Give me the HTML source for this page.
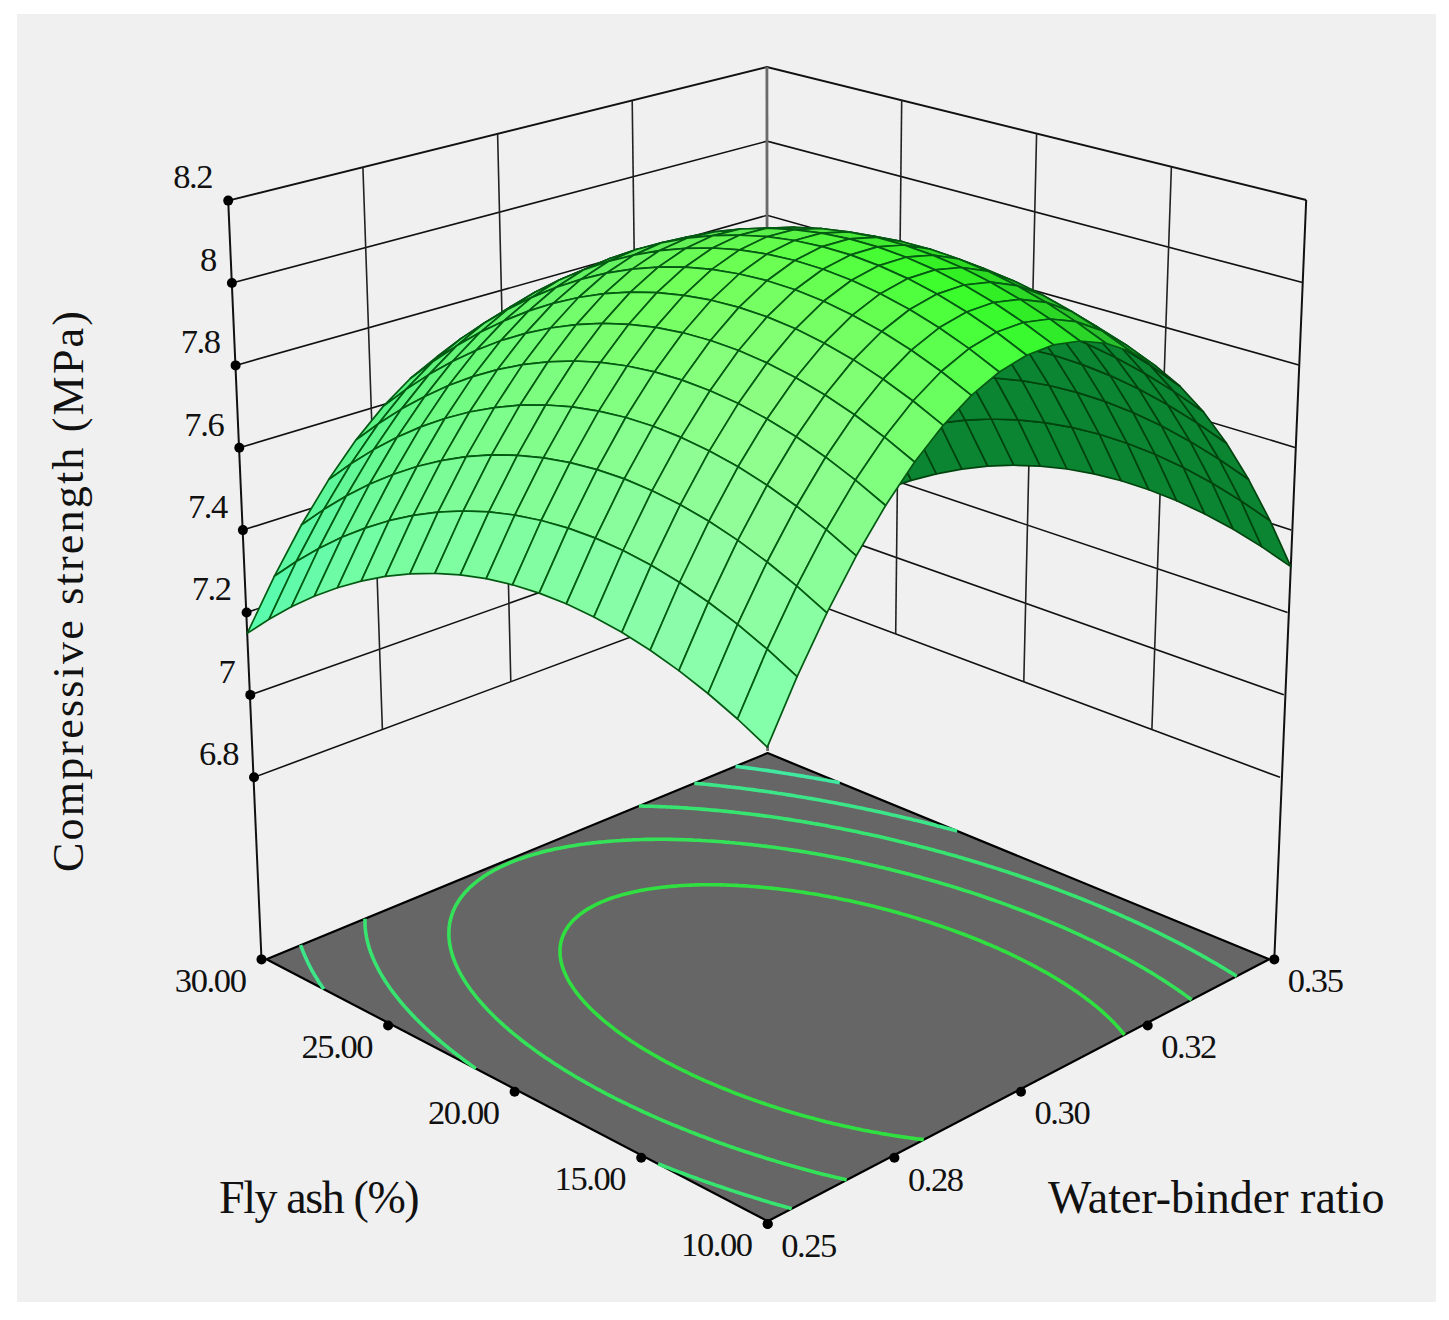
<!DOCTYPE html>
<html><head><meta charset="utf-8"><style>html,body{margin:0;padding:0;background:#fff;width:1449px;height:1320px;overflow:hidden;position:relative}</style></head>
<body><svg width="1449" height="1320" viewBox="0 0 1449 1320" style="position:absolute;left:0;top:0">
<rect x="17" y="14" width="1419" height="1288" fill="#f0f0f0"/>
<path d="M228.2 200.6L766.9 67.0L1306.2 200.0" stroke="#111" stroke-width="2.0" fill="none"/>
<path d="M231.9 283.0L767.0 141.2L1302.5 282.5" stroke="#111" stroke-width="1.6" fill="none"/>
<path d="M235.6 365.4L767.1 215.3L1298.8 364.9" stroke="#111" stroke-width="1.6" fill="none"/>
<path d="M239.3 447.8L767.2 289.5L1295.0 447.4" stroke="#111" stroke-width="1.6" fill="none"/>
<path d="M242.9 530.1L767.3 363.6L1291.2 529.9" stroke="#111" stroke-width="1.6" fill="none"/>
<path d="M246.6 612.5L767.4 437.8L1287.5 612.4" stroke="#111" stroke-width="1.6" fill="none"/>
<path d="M250.3 694.9L767.5 511.9L1283.8 694.8" stroke="#111" stroke-width="1.6" fill="none"/>
<path d="M254.0 777.3L767.6 586.1L1280.0 777.3" stroke="#111" stroke-width="1.6" fill="none"/>
<line x1="362.9" y1="167.2" x2="382.4" y2="729.5" stroke="#222" stroke-width="1.6"/>
<line x1="901.7" y1="100.2" x2="895.7" y2="633.9" stroke="#222" stroke-width="1.6"/>
<line x1="497.6" y1="133.8" x2="510.8" y2="681.7" stroke="#222" stroke-width="1.6"/>
<line x1="1036.6" y1="133.5" x2="1023.8" y2="681.7" stroke="#222" stroke-width="1.6"/>
<line x1="632.2" y1="100.4" x2="639.2" y2="633.9" stroke="#222" stroke-width="1.6"/>
<line x1="1171.4" y1="166.8" x2="1151.9" y2="729.5" stroke="#222" stroke-width="1.6"/>
<line x1="766.9" y1="67.0" x2="767.6" y2="751.0" stroke="#6a6a6a" stroke-width="2.8"/>
<line x1="228.2" y1="200.6" x2="261.5" y2="959.4" stroke="#111" stroke-width="2"/>
<line x1="1306.2" y1="200.0" x2="1274.3" y2="959.4" stroke="#111" stroke-width="2"/>
<polygon points="767.7,1221.2 266.5,959.2 767.6,753.1 1269.2,959.2" fill="#666666" stroke="#000" stroke-width="2.2" stroke-linejoin="round"/>
<path d="M735.5 766.3L736.4 766.4L739.0 766.7L742.5 767.2L743.0 767.2L745.9 767.6L749.3 768.1L749.6 768.1L752.8 768.5L756.2 769.0L756.4 769.0L759.6 769.5L762.9 770.0L763.3 770.0L766.3 770.4L769.7 770.9L770.3 771.0L773.0 771.4L776.4 771.9L777.4 772.1L779.7 772.4L783.0 773.0L784.6 773.2L786.3 773.5L789.7 774.0L792.0 774.4L792.9 774.5L796.2 775.1L799.5 775.6L799.6 775.6L802.8 776.1L806.0 776.7L807.2 776.9L809.3 777.2L812.5 777.8L815.1 778.2L815.7 778.4L819.0 778.9L822.2 779.5L823.1 779.7L825.4 780.1L828.6 780.7L831.3 781.2L831.8 781.3L834.9 781.8L838.1 782.4L839.8 782.8" stroke="#40e8a0" stroke-width="3.6" fill="none" stroke-linejoin="round"/>
<path d="M323.7 989.1L323.3 988.4L322.1 986.7L321.0 985.0L320.9 984.9L319.8 983.4L318.7 981.7L318.2 980.9L317.7 980.0L316.6 978.3L315.8 976.9L315.6 976.6L314.5 974.9L313.5 973.2L313.5 973.1L312.6 971.5L311.6 969.8L311.4 969.4L310.7 968.0L309.8 966.3L309.5 965.8L308.9 964.6L308.0 962.8L307.7 962.2L307.2 961.1L306.4 959.3L306.1 958.8L305.6 957.6L304.8 955.8L304.6 955.4L304.1 954.1L303.3 952.3L303.3 952.1L302.6 950.5L302.0 948.9L302.0 948.7L301.3 946.9L300.9 945.8L300.7 945.1" stroke="#3ce688" stroke-width="3.6" fill="none" stroke-linejoin="round"/>
<path d="M694.3 783.2L698.1 783.6L700.1 783.7L701.8 783.9L705.6 784.3L706.0 784.3L709.3 784.6L712.0 784.9L712.9 785.0L716.6 785.4L718.1 785.5L720.2 785.8L723.9 786.2L724.3 786.2L727.5 786.6L730.6 786.9L731.1 787.0L734.6 787.4L736.9 787.7L738.2 787.8L741.8 788.3L743.4 788.5L745.3 788.7L748.8 789.2L750.0 789.3L752.3 789.6L755.8 790.1L756.7 790.2L759.3 790.6L762.7 791.0L763.5 791.1L766.2 791.5L769.6 792.0L770.5 792.1L773.0 792.5L776.4 793.0L777.6 793.2L779.8 793.5L783.2 794.0L784.8 794.3L786.6 794.6L790.0 795.1L792.2 795.4L793.3 795.6L796.6 796.2L799.8 796.7L800.0 796.7L803.3 797.3L806.6 797.8L807.5 798.0L809.9 798.4L813.2 798.9L815.4 799.3L816.5 799.5L819.7 800.1L823.0 800.7L823.4 800.8L826.2 801.3L829.5 801.9L831.7 802.3L832.7 802.5L835.9 803.1L839.1 803.7L840.2 803.9L842.3 804.3L845.5 804.9L848.7 805.6L849.0 805.6L851.9 806.2L855.0 806.8L858.0 807.4L858.2 807.5L861.3 808.1L864.5 808.8L867.3 809.4L867.6 809.4L870.7 810.1L873.9 810.8L876.9 811.4L877.0 811.4L880.1 812.1L883.2 812.8L886.3 813.5L886.9 813.6L889.4 814.2L892.4 814.9L895.5 815.6L897.3 816.0L898.6 816.3L901.6 817.0L904.7 817.7L907.7 818.4L908.1 818.5L910.7 819.1L913.8 819.9L916.8 820.6L919.4 821.2L919.8 821.3L922.8 822.1L925.8 822.8L928.8 823.6L931.3 824.2L931.8 824.3L934.8 825.1L937.7 825.9L940.7 826.6L943.7 827.4L943.8 827.4L946.6 828.2L949.6 829.0L952.5 829.8L955.5 830.5L957.2 831.0" stroke="#3ce688" stroke-width="3.6" fill="none" stroke-linejoin="round"/>
<path d="M475.8 1068.6L475.1 1068.1L473.1 1066.6L471.0 1065.1L469.0 1063.6L466.9 1062.2L464.9 1060.7L462.9 1059.2L462.3 1058.7L460.9 1057.7L459.0 1056.2L457.0 1054.7L455.1 1053.2L453.1 1051.7L451.3 1050.2L451.2 1050.2L449.3 1048.7L447.5 1047.1L445.6 1045.6L443.8 1044.1L442.0 1042.7L441.9 1042.6L440.1 1041.0L438.3 1039.5L436.5 1038.0L434.8 1036.4L434.0 1035.8L433.0 1034.9L431.3 1033.3L429.6 1031.8L427.9 1030.2L427.0 1029.4L426.2 1028.7L424.5 1027.1L422.9 1025.5L421.3 1023.9L420.8 1023.5L419.6 1022.4L418.1 1020.8L416.5 1019.2L415.2 1017.9L414.9 1017.6L413.4 1016.0L411.9 1014.4L410.4 1012.8L410.1 1012.6L408.9 1011.2L407.4 1009.6L406.0 1008.0L405.6 1007.6L404.5 1006.4L403.1 1004.7L401.7 1003.1L401.4 1002.8L400.4 1001.5L399.0 999.8L397.7 998.2L397.7 998.2L396.4 996.5L395.1 994.9L394.2 993.8L393.8 993.2L392.6 991.6L391.3 989.9L391.0 989.5L390.1 988.2L388.9 986.5L388.2 985.4L387.8 984.8L386.6 983.1L385.5 981.4L385.5 981.4L384.4 979.7L383.4 978.0L383.1 977.6L382.3 976.3L381.3 974.6L380.9 973.8L380.3 972.9L379.3 971.1L378.8 970.2L378.4 969.4L377.5 967.6L377.0 966.7L376.6 965.9L375.7 964.1L375.3 963.3L374.9 962.3L374.0 960.5L373.8 959.9L373.3 958.7L372.5 956.9L372.4 956.7L371.8 955.1L371.2 953.5L371.1 953.3L370.4 951.5L370.1 950.4L369.8 949.7L369.2 947.8L369.1 947.4L368.7 946.0L368.2 944.4L368.1 944.1L367.6 942.2L367.5 941.5L367.2 940.3L366.8 938.7L366.8 938.4L366.4 936.5L366.3 935.9L366.1 934.6L365.8 933.2L365.8 932.6L365.5 930.7L365.5 930.5L365.3 928.7L365.2 927.9L365.1 926.7L365.1 925.3L365.0 924.8L365.0 922.8L365.0 922.7L365.0 920.7L365.0 920.4L365.0 918.7" stroke="#38e470" stroke-width="3.6" fill="none" stroke-linejoin="round"/>
<path d="M791.7 1208.7L788.0 1207.6L786.5 1207.2L784.3 1206.6L780.6 1205.5L777.0 1204.5L773.7 1203.5L773.3 1203.4L769.7 1202.4L766.1 1201.3L762.5 1200.2L760.4 1199.5L759.0 1199.1L755.4 1198.0L751.9 1196.9L748.3 1195.8L746.3 1195.2L744.8 1194.7L741.4 1193.6L737.9 1192.5L734.4 1191.4L731.4 1190.4L731.0 1190.3L727.6 1189.1L724.2 1188.0L720.8 1186.8L717.4 1185.7L715.6 1185.1L714.0 1184.5L710.7 1183.4L707.3 1182.2L704.0 1181.1L700.7 1179.9L698.4 1179.1L697.4 1178.7L694.2 1177.5L690.9 1176.4L687.7 1175.2L684.5 1174.0L681.2 1172.8L679.5 1172.1L678.1 1171.6L674.9 1170.4L671.7 1169.2L668.6 1167.9L665.4 1166.7L662.3 1165.5L659.2 1164.3L658.0 1163.8" stroke="#38e470" stroke-width="3.6" fill="none" stroke-linejoin="round"/>
<path d="M638.9 806.0L641.2 806.0L643.4 806.1L646.1 806.2L647.7 806.2L651.1 806.3L652.1 806.3L656.1 806.5L656.4 806.5L660.6 806.6L661.2 806.7L664.8 806.8L666.4 806.9L669.0 807.0L671.6 807.1L673.1 807.2L676.9 807.4L677.2 807.4L681.3 807.7L682.3 807.7L685.3 807.9L687.7 808.1L689.3 808.2L693.3 808.5L693.3 808.5L697.2 808.8L698.9 808.9L701.2 809.1L704.6 809.4L705.0 809.4L708.9 809.7L710.4 809.9L712.7 810.1L716.3 810.4L716.6 810.4L720.3 810.8L722.3 811.0L724.1 811.1L727.9 811.5L728.4 811.6L731.6 811.9L734.6 812.2L735.3 812.3L739.0 812.7L740.9 813.0L742.6 813.2L746.3 813.6L747.3 813.7L749.9 814.0L753.5 814.5L753.9 814.5L757.1 814.9L760.5 815.4L760.7 815.4L764.2 815.9L767.4 816.3L767.7 816.3L771.3 816.8L774.3 817.3L774.8 817.3L778.3 817.8L781.4 818.3L781.7 818.3L785.2 818.9L788.6 819.4L788.7 819.4L792.1 819.9L795.5 820.5L796.1 820.6L798.9 821.0L802.3 821.6L803.7 821.8L805.6 822.1L809.0 822.7L811.5 823.1L812.4 823.3L815.7 823.9L819.0 824.4L819.6 824.5L822.3 825.0L825.6 825.6L827.8 826.0L828.9 826.3L832.2 826.9L835.5 827.5L836.3 827.7L838.7 828.1L842.0 828.8L845.1 829.4L845.2 829.4L848.4 830.0L851.7 830.7L854.1 831.2L854.9 831.3L858.1 832.0L861.2 832.7L863.5 833.2L864.4 833.4L867.6 834.0L870.7 834.7L873.2 835.3L873.9 835.4L877.0 836.1L880.2 836.8L883.3 837.5L883.4 837.5L886.4 838.2L889.5 839.0L892.6 839.7L894.0 840.0L895.7 840.4L898.8 841.2L901.8 841.9L904.9 842.6L905.1 842.7L907.9 843.4L911.0 844.2L914.0 844.9L916.9 845.6L917.1 845.7L920.1 846.5L923.1 847.2L926.1 848.0L929.1 848.8L929.5 848.9L932.1 849.6L935.1 850.4L938.1 851.2L941.0 852.0L942.9 852.5L944.0 852.8L947.0 853.7L949.9 854.5L952.9 855.3L955.8 856.1L957.5 856.6L958.7 857.0L961.7 857.8L964.6 858.7L967.5 859.5L970.4 860.4L973.3 861.3L973.7 861.4L976.2 862.1L979.1 863.0L981.9 863.9L984.8 864.8L987.7 865.7L990.5 866.6L992.1 867.0L993.4 867.5L996.3 868.4L999.1 869.3L1001.9 870.2L1004.8 871.1L1007.6 872.0L1010.4 873.0L1013.2 873.9L1014.1 874.2L1016.0 874.8L1018.8 875.8L1021.6 876.7L1024.4 877.7L1027.2 878.6L1030.0 879.6L1032.8 880.6L1035.5 881.6L1038.3 882.5L1041.0 883.5L1043.8 884.5L1043.9 884.6L1046.5 885.5L1049.3 886.5L1052.0 887.5L1054.7 888.5L1057.5 889.5L1060.2 890.6L1062.9 891.6L1065.6 892.6L1068.3 893.7L1071.0 894.7L1073.7 895.8L1076.4 896.8L1079.1 897.9L1081.7 898.9L1084.4 900.0L1087.1 901.1L1089.7 902.1L1092.4 903.2L1095.0 904.3L1097.7 905.4L1100.3 906.5L1103.0 907.6L1105.6 908.7L1108.2 909.8L1110.8 911.0L1113.4 912.1L1116.0 913.2L1118.6 914.4L1121.2 915.5L1123.8 916.7L1126.4 917.8L1129.0 919.0L1131.6 920.1L1134.1 921.3L1136.7 922.5L1139.3 923.7L1141.8 924.9L1144.4 926.1L1146.9 927.3L1147.4 927.5L1149.4 928.5L1152.0 929.7L1154.5 930.9L1157.0 932.1L1159.5 933.4L1162.0 934.6L1164.5 935.8L1167.0 937.1L1169.5 938.3L1172.0 939.6L1173.8 940.5L1174.5 940.9L1176.9 942.1L1179.4 943.4L1181.9 944.7L1184.3 946.0L1186.8 947.3L1189.2 948.6L1191.7 949.9L1192.4 950.3L1194.1 951.2L1196.5 952.6L1198.9 953.9L1201.3 955.2L1203.7 956.6L1206.1 957.9L1207.4 958.7L1208.5 959.3L1210.9 960.7L1213.3 962.1L1215.7 963.4L1218.0 964.8L1220.1 966.1L1220.4 966.2L1222.7 967.6L1225.1 969.0L1227.4 970.5L1229.7 971.9L1231.2 972.8L1232.1 973.3L1234.4 974.8L1236.7 976.2" stroke="#38e470" stroke-width="3.6" fill="none" stroke-linejoin="round"/>
<path d="M846.7 1179.9L845.3 1179.6L842.8 1179.0L839.0 1178.1L835.1 1177.2L834.8 1177.1L831.3 1176.3L827.5 1175.3L823.8 1174.4L823.7 1174.4L819.9 1173.4L816.2 1172.5L812.5 1171.5L812.4 1171.5L808.8 1170.5L805.1 1169.5L801.4 1168.5L800.5 1168.3L797.8 1167.5L794.2 1166.5L790.6 1165.5L788.1 1164.8L787.0 1164.5L783.5 1163.5L779.9 1162.4L776.4 1161.4L774.9 1160.9L772.9 1160.3L769.4 1159.3L765.9 1158.2L762.5 1157.1L760.8 1156.6L759.1 1156.1L755.6 1155.0L752.3 1153.9L748.9 1152.8L745.7 1151.8L745.5 1151.7L742.2 1150.6L738.9 1149.5L735.6 1148.4L732.3 1147.2L729.2 1146.2L729.0 1146.1L725.8 1145.0L722.5 1143.8L719.3 1142.7L716.1 1141.5L712.9 1140.4L710.7 1139.5L709.8 1139.2L706.6 1138.0L703.5 1136.8L700.4 1135.7L697.3 1134.5L694.2 1133.3L691.1 1132.1L688.8 1131.2L688.1 1130.9L685.1 1129.7L682.0 1128.5L679.0 1127.2L676.1 1126.0L673.1 1124.8L670.2 1123.6L667.2 1122.3L664.3 1121.1L661.4 1119.8L659.9 1119.2L658.5 1118.6L655.7 1117.3L652.8 1116.1L650.0 1114.8L647.2 1113.5L644.4 1112.3L641.6 1111.0L638.8 1109.7L636.1 1108.4L633.3 1107.1L630.6 1105.8L627.9 1104.5L625.2 1103.2L622.5 1101.9L619.9 1100.6L617.2 1099.3L614.6 1098.0L612.0 1096.6L609.4 1095.3L606.8 1094.0L604.3 1092.6L601.7 1091.3L599.2 1089.9L596.7 1088.6L594.2 1087.2L591.7 1085.8L589.3 1084.5L586.8 1083.1L584.4 1081.7L582.0 1080.4L579.6 1079.0L577.2 1077.6L574.8 1076.2L572.5 1074.8L570.2 1073.4L569.0 1072.7L567.9 1072.0L565.6 1070.6L563.3 1069.2L561.0 1067.7L558.8 1066.3L556.5 1064.9L554.3 1063.5L552.1 1062.0L550.0 1060.6L547.8 1059.1L547.7 1059.1L545.6 1057.7L543.5 1056.2L541.4 1054.8L539.3 1053.3L537.2 1051.9L535.2 1050.4L533.3 1049.0L533.1 1048.9L531.1 1047.4L529.1 1045.9L527.1 1044.5L525.2 1043.0L523.2 1041.5L522.3 1040.7L521.3 1040.0L519.4 1038.4L517.5 1036.9L515.6 1035.4L513.7 1033.9L513.2 1033.4L511.9 1032.4L510.1 1030.8L508.3 1029.3L506.5 1027.7L505.5 1026.9L504.7 1026.2L503.0 1024.6L501.3 1023.1L499.6 1021.5L498.9 1020.9L497.9 1020.0L496.2 1018.4L494.6 1016.8L493.0 1015.3L493.0 1015.2L491.4 1013.6L489.8 1012.0L488.3 1010.4L487.9 1010.1L486.7 1008.8L485.2 1007.2L483.7 1005.6L483.3 1005.1L482.3 1003.9L480.8 1002.3L479.4 1000.7L479.2 1000.5L478.0 999.0L476.6 997.4L475.5 996.0L475.3 995.7L474.0 994.0L472.7 992.3L472.2 991.8L471.4 990.7L470.2 989.0L469.2 987.7L469.0 987.3L467.8 985.6L466.6 983.8L466.5 983.8L465.5 982.1L464.4 980.4L464.1 980.0L463.3 978.6L462.3 976.9L461.9 976.3L461.2 975.1L460.3 973.4L460.0 972.8L459.3 971.6L458.4 969.8L458.2 969.4L457.5 968.0L456.7 966.2L456.6 966.1L455.9 964.4L455.2 962.9L455.1 962.5L454.3 960.7L454.0 959.7L453.6 958.8L453.0 956.9L452.9 956.7L452.4 955.1L452.0 953.7L451.8 953.2L451.3 951.2L451.2 950.9L450.8 949.3L450.5 948.0L450.4 947.4L450.0 945.4L450.0 945.3L449.6 943.4L449.5 942.6L449.4 941.4L449.2 940.0L449.2 939.4L449.0 937.4L449.0 937.4L448.9 935.3L448.9 934.9L448.9 933.2L448.9 932.5L448.9 931.1L449.0 930.1L449.0 928.9L449.1 927.8L449.2 926.8L449.4 925.5L449.5 924.6L449.7 923.2L449.9 922.3L450.2 921.0L450.4 920.1L450.7 918.8L451.0 917.8L451.3 916.7L451.7 915.4L451.9 914.7L452.5 913.0L452.6 912.6L453.4 910.6L453.5 910.5L454.3 908.7L454.6 908.0L455.2 906.7L455.9 905.4L456.2 904.9L457.3 903.0L457.5 902.8L458.4 901.2L459.2 900.0L459.6 899.4L460.9 897.7L461.3 897.1L462.2 896.0L463.5 894.3L463.7 894.1L464.9 892.6L466.4 891.0L466.5 890.9L467.9 889.4L469.5 887.8L469.8 887.5L471.1 886.3L472.8 884.8L474.0 883.8L474.5 883.3L476.3 881.9L478.2 880.4L479.3 879.6L480.0 879.0L482.0 877.7L483.9 876.3L486.0 875.0L486.7 874.6L488.0 873.7L490.2 872.5L492.3 871.2L494.5 870.0L496.8 868.8L499.1 867.6L501.4 866.5L501.5 866.5L503.9 865.4L506.3 864.3L508.8 863.2L511.3 862.1L513.9 861.1L516.5 860.1L519.2 859.1L520.2 858.8L521.9 858.2L524.6 857.2L527.4 856.3L530.3 855.4L533.2 854.6L536.1 853.7L539.1 852.9L539.3 852.8L542.1 852.1L545.2 851.3L548.3 850.6L551.2 849.9L551.4 849.9L554.6 849.1L557.9 848.5L560.9 847.9L561.2 847.8L564.5 847.2L567.9 846.6L569.4 846.3L571.4 846.0L574.9 845.4L577.2 845.0L578.4 844.8L582.0 844.3L584.5 844.0L585.6 843.8L589.3 843.4L591.3 843.1L593.1 842.9L596.9 842.5L597.8 842.4L600.7 842.1L604.0 841.8L604.6 841.7L608.6 841.4L610.0 841.3L612.6 841.0L615.8 840.8L616.7 840.7L620.8 840.5L621.4 840.4L625.0 840.2L626.8 840.1L629.2 840.0L632.2 839.9L633.5 839.8L637.4 839.7L637.9 839.7L642.3 839.5L642.4 839.5L646.8 839.4L647.4 839.4L651.4 839.4L652.3 839.4L656.0 839.3L657.1 839.3L660.7 839.3L661.9 839.3L665.5 839.3L666.5 839.3L670.3 839.4L671.1 839.4L675.2 839.5L675.7 839.5L680.1 839.6L680.2 839.6L684.5 839.7L685.3 839.8L688.9 839.9L690.5 839.9L693.2 840.1L695.7 840.2L697.5 840.3L701.1 840.4L701.7 840.5L705.8 840.7L706.5 840.8L710.0 841.0L712.1 841.1L714.1 841.2L717.7 841.5L718.1 841.5L722.1 841.8L723.4 841.9L726.1 842.2L729.3 842.4L730.1 842.5L734.0 842.8L735.2 843.0L737.9 843.2L741.3 843.5L741.7 843.6L745.6 844.0L747.5 844.2L749.4 844.4L753.1 844.8L753.8 844.9L756.9 845.2L760.3 845.6L760.6 845.7L764.3 846.1L766.9 846.4L768.0 846.6L771.6 847.0L773.7 847.3L775.3 847.5L778.9 848.0L780.7 848.3L782.5 848.5L786.1 849.0L787.8 849.3L789.6 849.6L793.1 850.1L795.1 850.4L796.7 850.6L800.1 851.2L802.6 851.6L803.6 851.7L807.1 852.3L810.4 852.9L810.5 852.9L814.0 853.5L817.4 854.1L818.3 854.2L820.8 854.7L824.1 855.3L826.6 855.7L827.5 855.9L830.9 856.5L834.2 857.2L835.1 857.4L837.5 857.8L840.8 858.5L844.0 859.1L844.1 859.1L847.4 859.8L850.7 860.5L853.2 861.0L853.9 861.2L857.1 861.8L860.4 862.5L862.8 863.1L863.6 863.2L866.8 864.0L870.0 864.7L872.9 865.3L873.2 865.4L876.3 866.1L879.5 866.9L882.6 867.6L883.5 867.8L885.8 868.4L888.9 869.1L892.0 869.9L894.8 870.6L895.1 870.7L898.2 871.4L901.3 872.2L904.4 873.0L906.8 873.7L907.4 873.8L910.5 874.6L913.5 875.4L916.5 876.2L919.6 877.1L919.9 877.1L922.6 877.9L925.6 878.7L928.6 879.6L931.6 880.4L934.2 881.2L934.5 881.3L937.5 882.1L940.5 883.0L943.4 883.9L946.4 884.8L949.3 885.6L950.2 885.9L952.2 886.5L955.1 887.4L958.0 888.3L960.9 889.2L963.8 890.2L966.7 891.1L969.0 891.8L969.6 892.0L972.4 892.9L975.3 893.9L978.1 894.8L981.0 895.8L983.8 896.7L986.7 897.7L989.5 898.7L992.3 899.7L992.7 899.8L995.1 900.6L997.9 901.6L1000.7 902.6L1003.4 903.6L1006.2 904.6L1009.0 905.6L1011.7 906.7L1014.5 907.7L1017.2 908.7L1020.0 909.8L1022.7 910.8L1025.4 911.9L1028.1 912.9L1030.8 914.0L1033.5 915.0L1035.8 915.9L1036.2 916.1L1038.9 917.2L1041.6 918.3L1044.2 919.4L1046.9 920.5L1049.5 921.6L1052.2 922.7L1054.8 923.8L1057.4 924.9L1060.1 926.1L1062.7 927.2L1065.3 928.4L1067.9 929.5L1068.3 929.7L1070.5 930.7L1073.1 931.8L1075.6 933.0L1078.2 934.2L1080.8 935.4L1083.3 936.6L1085.9 937.8L1088.4 939.0L1091.0 940.2L1093.5 941.4L1096.0 942.6L1098.5 943.9L1101.0 945.1L1103.5 946.4L1106.0 947.6L1107.5 948.4L1108.5 948.9L1110.9 950.1L1113.4 951.4L1115.8 952.7L1118.3 954.0L1120.7 955.3L1123.1 956.6L1125.6 957.9L1127.5 959.0L1128.0 959.2L1130.4 960.6L1132.8 961.9L1135.2 963.3L1137.5 964.6L1139.9 966.0L1142.3 967.3L1142.5 967.5L1144.6 968.7L1146.9 970.1L1149.3 971.5L1151.6 972.9L1153.9 974.3L1154.7 974.8L1156.2 975.7L1158.5 977.2L1160.8 978.6L1163.1 980.1L1165.2 981.4L1165.3 981.5L1167.6 983.0L1169.8 984.5L1172.0 985.9L1174.3 987.4L1174.3 987.5L1176.5 988.9L1178.7 990.5L1180.8 992.0L1182.5 993.1L1183.0 993.5L1185.2 995.1L1187.3 996.6L1189.5 998.2L1189.8 998.5L1191.6 999.8" stroke="#34e258" stroke-width="3.6" fill="none" stroke-linejoin="round"/>
<path d="M923.8 1139.6L919.3 1139.1L919.0 1139.1L914.9 1138.6L911.6 1138.1L910.5 1138.0L906.1 1137.4L903.8 1137.1L901.8 1136.8L897.5 1136.1L895.9 1135.9L893.3 1135.5L889.1 1134.8L887.7 1134.5L885.0 1134.1L880.9 1133.4L879.2 1133.1L876.8 1132.6L872.7 1131.9L870.4 1131.5L868.7 1131.1L864.8 1130.4L861.2 1129.7L860.8 1129.6L856.9 1128.8L853.0 1127.9L851.7 1127.7L849.2 1127.1L845.3 1126.3L841.7 1125.5L841.6 1125.4L837.8 1124.5L834.1 1123.7L831.2 1123.0L830.4 1122.8L826.7 1121.9L823.0 1120.9L820.1 1120.2L819.4 1120.0L815.8 1119.1L812.2 1118.1L808.7 1117.2L808.3 1117.0L805.2 1116.2L801.7 1115.2L798.2 1114.2L795.5 1113.4L794.8 1113.2L791.3 1112.2L788.0 1111.2L784.6 1110.2L781.5 1109.2L781.2 1109.1L777.9 1108.1L774.6 1107.0L771.3 1106.0L768.1 1104.9L765.9 1104.2L764.8 1103.8L761.6 1102.7L758.4 1101.6L755.3 1100.5L752.1 1099.4L749.0 1098.3L747.5 1097.7L745.9 1097.2L742.8 1096.0L739.8 1094.9L736.7 1093.7L733.7 1092.6L730.7 1091.4L727.8 1090.2L724.8 1089.0L723.5 1088.5L721.9 1087.8L719.0 1086.6L716.1 1085.4L713.2 1084.2L710.4 1083.0L707.6 1081.8L704.7 1080.6L702.0 1079.3L699.2 1078.1L696.5 1076.8L693.7 1075.6L691.0 1074.3L688.4 1073.0L685.7 1071.7L683.1 1070.5L680.5 1069.2L677.9 1067.9L675.3 1066.6L672.7 1065.2L670.2 1063.9L667.7 1062.6L665.2 1061.3L662.7 1059.9L660.3 1058.6L657.9 1057.2L655.5 1055.9L653.1 1054.5L650.7 1053.1L648.4 1051.7L646.0 1050.4L643.7 1049.0L643.3 1048.7L641.5 1047.6L639.2 1046.2L637.0 1044.7L634.8 1043.3L632.6 1041.9L630.4 1040.5L628.3 1039.0L626.3 1037.7L626.2 1037.6L624.1 1036.1L622.0 1034.6L620.0 1033.2L617.9 1031.7L615.9 1030.2L614.8 1029.4L613.9 1028.7L612.0 1027.2L610.1 1025.7L608.2 1024.2L606.3 1022.7L606.0 1022.5L604.4 1021.1L602.6 1019.6L600.8 1018.0L599.0 1016.5L598.9 1016.4L597.3 1014.9L595.6 1013.3L593.9 1011.8L593.0 1010.9L592.2 1010.2L590.6 1008.6L589.0 1006.9L588.0 1005.9L587.4 1005.3L585.9 1003.7L584.4 1002.0L583.6 1001.2L582.9 1000.4L581.5 998.7L580.1 997.1L579.9 996.8L578.7 995.4L577.3 993.7L576.6 992.7L576.0 991.9L574.8 990.2L573.8 988.8L573.6 988.5L572.4 986.7L571.3 985.1L571.2 985.0L570.1 983.2L569.1 981.6L569.0 981.4L568.0 979.6L567.3 978.2L567.1 977.8L566.1 975.9L565.7 974.9L565.3 974.0L564.5 972.2L564.3 971.8L563.7 970.3L563.1 968.7L563.0 968.3L562.4 966.4L562.2 965.8L561.8 964.4L561.4 963.0L561.3 962.4L560.8 960.4L560.8 960.3L560.5 958.3L560.4 957.6L560.2 956.2L560.1 955.0L560.1 954.1L560.0 952.6L560.0 952.0L560.0 950.1L560.0 949.8L560.1 947.8L560.1 947.5L560.4 945.5L560.4 945.2L560.7 943.3L560.8 942.9L561.2 941.1L561.4 940.4L561.8 939.0L562.2 938.0L562.5 937.0L563.1 935.4L563.3 935.0L564.2 933.0L564.4 932.7L565.2 931.1L565.9 929.9L566.3 929.3L567.4 927.5L567.8 926.9L568.7 925.7L570.0 924.0L570.3 923.7L571.4 922.3L572.9 920.7L573.4 920.2L574.5 919.1L576.2 917.6L577.7 916.2L577.9 916.1L579.7 914.6L581.6 913.2L583.6 911.8L584.3 911.3L585.6 910.4L587.7 909.1L589.9 907.8L592.1 906.6L594.4 905.4L596.8 904.2L599.2 903.1L601.7 901.9L604.3 900.9L606.9 899.8L609.6 898.8L612.4 897.8L615.3 896.9L618.2 896.0L621.1 895.1L623.2 894.6L624.2 894.3L627.3 893.5L630.5 892.7L633.7 892.0L634.4 891.8L637.1 891.3L640.4 890.6L643.4 890.0L643.9 889.9L647.4 889.3L651.0 888.8L651.3 888.7L654.7 888.2L658.4 887.7L658.5 887.7L662.3 887.3L665.1 887.0L666.2 886.9L670.2 886.5L671.3 886.4L674.3 886.1L677.3 885.9L678.4 885.8L682.7 885.5L683.0 885.5L687.0 885.3L688.5 885.2L691.4 885.1L693.8 885.0L695.9 884.9L699.0 884.9L700.5 884.8L704.1 884.8L705.2 884.8L709.0 884.8L710.0 884.8L713.8 884.8L714.9 884.8L718.5 884.8L720.0 884.9L723.1 884.9L725.1 885.0L727.6 885.1L730.3 885.2L732.1 885.2L735.7 885.4L736.5 885.4L740.8 885.7L741.2 885.7L745.0 885.9L746.9 886.0L749.2 886.2L752.6 886.5L753.4 886.5L757.5 886.9L758.6 886.9L761.5 887.2L764.7 887.5L765.5 887.6L769.5 888.0L771.0 888.1L773.4 888.4L777.3 888.8L777.4 888.8L781.1 889.3L784.1 889.6L785.0 889.7L788.7 890.2L791.0 890.5L792.5 890.7L796.2 891.3L798.1 891.5L799.8 891.8L803.5 892.3L805.4 892.6L807.1 892.9L810.7 893.5L813.1 893.8L814.3 894.0L817.8 894.6L821.0 895.2L821.3 895.3L824.8 895.9L828.3 896.5L829.4 896.7L831.7 897.2L835.1 897.8L838.1 898.4L838.5 898.5L841.9 899.2L845.3 899.9L847.3 900.3L848.6 900.6L851.9 901.3L855.2 902.0L857.0 902.4L858.5 902.7L861.8 903.5L865.0 904.3L867.4 904.8L868.2 905.0L871.4 905.8L874.6 906.6L877.8 907.4L878.6 907.6L881.0 908.2L884.1 909.0L887.2 909.8L890.3 910.6L890.9 910.8L893.4 911.5L896.5 912.3L899.6 913.2L902.6 914.1L904.7 914.7L905.7 914.9L908.7 915.8L911.7 916.7L914.7 917.6L917.7 918.5L920.6 919.5L920.7 919.5L923.6 920.4L926.5 921.3L929.5 922.3L932.4 923.2L935.3 924.2L938.2 925.2L940.8 926.0L941.0 926.1L943.9 927.1L946.7 928.1L949.6 929.1L952.4 930.1L955.2 931.2L958.0 932.2L960.8 933.2L963.6 934.3L966.3 935.3L969.1 936.4L971.8 937.5L974.5 938.5L974.6 938.5L977.3 939.6L980.0 940.7L982.7 941.8L985.3 943.0L988.0 944.1L990.7 945.2L993.3 946.4L995.9 947.5L998.6 948.7L1001.2 949.8L1003.8 951.0L1006.3 952.2L1008.9 953.4L1010.5 954.1L1011.5 954.6L1014.0 955.8L1016.5 957.0L1019.1 958.3L1021.6 959.5L1024.1 960.8L1026.5 962.0L1029.0 963.3L1031.5 964.6L1033.9 965.8L1036.3 967.1L1038.7 968.5L1039.9 969.1L1041.1 969.8L1043.5 971.1L1045.9 972.4L1048.3 973.8L1050.6 975.1L1052.9 976.5L1055.3 977.9L1055.7 978.2L1057.6 979.3L1059.8 980.7L1062.1 982.1L1064.4 983.5L1066.6 985.0L1067.4 985.5L1068.8 986.4L1071.1 987.9L1073.2 989.4L1075.4 990.8L1076.8 991.8L1077.6 992.3L1079.7 993.9L1081.8 995.4L1084.0 996.9L1084.7 997.5L1086.0 998.5L1088.1 1000.0L1090.2 1001.6L1091.6 1002.7L1092.2 1003.2L1094.2 1004.8L1096.2 1006.4L1097.6 1007.6L1098.1 1008.1L1100.1 1009.7L1102.0 1011.4L1102.9 1012.2L1103.9 1013.1L1105.8 1014.8L1107.6 1016.5L1107.6 1016.5L1109.4 1018.3L1111.2 1020.0L1111.9 1020.7L1113.0 1021.8L1114.7 1023.6L1115.7 1024.6L1116.4 1025.4L1118.1 1027.3L1119.1 1028.4L1119.7 1029.1L1121.3 1031.0L1122.2 1032.1L1122.9 1032.9L1124.4 1034.9" stroke="#30e040" stroke-width="3.6" fill="none" stroke-linejoin="round"/>
<polygon points="767.3,494.4 744.2,511.2 767.4,555.1 790.5,538.6" fill="#0b8532" stroke="#02440e" stroke-width="1.7" stroke-linejoin="round"/>
<polygon points="790.9,479.2 767.3,494.4 790.5,538.6 814.0,523.7" fill="#0b8532" stroke="#02440e" stroke-width="1.7" stroke-linejoin="round"/>
<polygon points="743.7,454.4 720.5,471.5 744.2,511.2 767.3,494.4" fill="#0b8532" stroke="#02440e" stroke-width="1.7" stroke-linejoin="round"/>
<polygon points="814.7,465.6 790.9,479.2 814.0,523.7 837.8,510.4" fill="#0b8532" stroke="#02440e" stroke-width="1.7" stroke-linejoin="round"/>
<polygon points="767.3,438.9 743.7,454.4 767.3,494.4 790.9,479.2" fill="#0b8532" stroke="#02440e" stroke-width="1.7" stroke-linejoin="round"/>
<polygon points="719.6,418.8 696.4,436.2 720.5,471.5 743.7,454.4" fill="#0b8532" stroke="#02440e" stroke-width="1.7" stroke-linejoin="round"/>
<polygon points="839.0,453.6 814.7,465.6 837.8,510.4 862.0,498.7" fill="#0b8532" stroke="#02440e" stroke-width="1.7" stroke-linejoin="round"/>
<polygon points="791.2,425.0 767.3,438.9 790.9,479.2 814.7,465.6" fill="#0b8532" stroke="#02440e" stroke-width="1.7" stroke-linejoin="round"/>
<polygon points="743.2,403.1 719.6,418.8 743.7,454.4 767.3,438.9" fill="#0b8532" stroke="#02440e" stroke-width="1.7" stroke-linejoin="round"/>
<polygon points="695.2,387.8 671.9,405.4 696.4,436.2 719.6,418.8" fill="#0b8532" stroke="#02440e" stroke-width="1.7" stroke-linejoin="round"/>
<polygon points="863.5,443.3 839.0,453.6 862.0,498.7 886.4,488.7" fill="#0b8532" stroke="#02440e" stroke-width="1.7" stroke-linejoin="round"/>
<polygon points="815.5,412.8 791.2,425.0 814.7,465.6 839.0,453.6" fill="#0b8532" stroke="#02440e" stroke-width="1.7" stroke-linejoin="round"/>
<polygon points="767.2,389.0 743.2,403.1 767.3,438.9 791.2,425.0" fill="#0b8532" stroke="#02440e" stroke-width="1.7" stroke-linejoin="round"/>
<polygon points="718.8,371.9 695.2,387.8 719.6,418.8 743.2,403.1" fill="#0b8532" stroke="#02440e" stroke-width="1.7" stroke-linejoin="round"/>
<polygon points="670.3,361.6 647.0,379.3 671.9,405.4 695.2,387.8" fill="#0b8532" stroke="#02440e" stroke-width="1.7" stroke-linejoin="round"/>
<polygon points="888.4,434.8 863.5,443.3 886.4,488.7 911.3,480.4" fill="#0b8532" stroke="#02440e" stroke-width="1.7" stroke-linejoin="round"/>
<polygon points="840.1,402.4 815.5,412.8 839.0,453.6 863.5,443.3" fill="#0b8532" stroke="#02440e" stroke-width="1.7" stroke-linejoin="round"/>
<polygon points="791.5,376.6 767.2,389.0 791.2,425.0 815.5,412.8" fill="#0b8532" stroke="#02440e" stroke-width="1.7" stroke-linejoin="round"/>
<polygon points="742.8,357.6 718.8,371.9 743.2,403.1 767.2,389.0" fill="#0b8532" stroke="#02440e" stroke-width="1.7" stroke-linejoin="round"/>
<polygon points="913.7,428.1 888.4,434.8 911.3,480.4 936.4,473.9" fill="#0b8532" stroke="#02440e" stroke-width="1.7" stroke-linejoin="round"/>
<polygon points="693.9,345.5 670.3,361.6 695.2,387.8 718.8,371.9" fill="#0b8532" stroke="#02440e" stroke-width="1.7" stroke-linejoin="round"/>
<polygon points="645.1,340.2 621.8,358.1 647.0,379.3 670.3,361.6" fill="#0b8532" stroke="#02440e" stroke-width="1.7" stroke-linejoin="round"/>
<polygon points="865.1,393.7 840.1,402.4 863.5,443.3 888.4,434.8" fill="#0b8532" stroke="#02440e" stroke-width="1.7" stroke-linejoin="round"/>
<polygon points="816.2,365.9 791.5,376.6 815.5,412.8 840.1,402.4" fill="#0b8532" stroke="#02440e" stroke-width="1.7" stroke-linejoin="round"/>
<polygon points="939.3,423.2 913.7,428.1 936.4,473.9 961.9,469.1" fill="#0b8532" stroke="#02440e" stroke-width="1.7" stroke-linejoin="round"/>
<polygon points="767.2,345.1 742.8,357.6 767.2,389.0 791.5,376.6" fill="#0b8532" stroke="#02440e" stroke-width="1.7" stroke-linejoin="round"/>
<polygon points="718.0,331.1 693.9,345.5 718.8,371.9 742.8,357.6" fill="#0b8532" stroke="#02440e" stroke-width="1.7" stroke-linejoin="round"/>
<polygon points="668.7,324.0 645.1,340.2 670.3,361.6 693.9,345.5" fill="#0b8532" stroke="#02440e" stroke-width="1.7" stroke-linejoin="round"/>
<polygon points="619.5,323.9 596.3,341.9 621.8,358.1 645.1,340.2" fill="#0b8532" stroke="#02440e" stroke-width="1.7" stroke-linejoin="round"/>
<polygon points="890.4,386.7 865.1,393.7 888.4,434.8 913.7,428.1" fill="#0b8532" stroke="#02440e" stroke-width="1.7" stroke-linejoin="round"/>
<polygon points="841.3,357.1 816.2,365.9 840.1,402.4 865.1,393.7" fill="#0b8532" stroke="#02440e" stroke-width="1.7" stroke-linejoin="round"/>
<polygon points="965.2,420.1 939.3,423.2 961.9,469.1 987.7,466.2" fill="#0b8532" stroke="#02440e" stroke-width="1.7" stroke-linejoin="round"/>
<polygon points="791.9,334.3 767.2,345.1 791.5,376.6 816.2,365.9" fill="#0b8532" stroke="#02440e" stroke-width="1.7" stroke-linejoin="round"/>
<polygon points="742.3,318.4 718.0,331.1 742.8,357.6 767.2,345.1" fill="#0b8532" stroke="#02440e" stroke-width="1.7" stroke-linejoin="round"/>
<polygon points="593.6,312.8 570.4,330.8 596.3,341.9 619.5,323.9" fill="#0b8532" stroke="#02440e" stroke-width="1.7" stroke-linejoin="round"/>
<polygon points="692.7,309.5 668.7,324.0 693.9,345.5 718.0,331.1" fill="#0b8532" stroke="#02440e" stroke-width="1.7" stroke-linejoin="round"/>
<polygon points="643.1,307.6 619.5,323.9 645.1,340.2 668.7,324.0" fill="#0b8532" stroke="#02440e" stroke-width="1.7" stroke-linejoin="round"/>
<polygon points="916.1,381.7 890.4,386.7 913.7,428.1 939.3,423.2" fill="#0b8532" stroke="#02440e" stroke-width="1.7" stroke-linejoin="round"/>
<polygon points="866.7,350.0 841.3,357.1 865.1,393.7 890.4,386.7" fill="#0b8532" stroke="#02440e" stroke-width="1.7" stroke-linejoin="round"/>
<polygon points="991.4,419.0 965.2,420.1 987.7,466.2 1013.8,465.2" fill="#0b8532" stroke="#02440e" stroke-width="1.7" stroke-linejoin="round"/>
<polygon points="817.0,325.3 791.9,334.3 816.2,365.9 841.3,357.1" fill="#0b8532" stroke="#02440e" stroke-width="1.7" stroke-linejoin="round"/>
<polygon points="767.1,307.5 742.3,318.4 767.2,345.1 791.9,334.3" fill="#0b8532" stroke="#02440e" stroke-width="1.7" stroke-linejoin="round"/>
<polygon points="567.4,307.0 544.2,325.0 570.4,330.8 593.6,312.8" fill="#0b8532" stroke="#02440e" stroke-width="1.7" stroke-linejoin="round"/>
<polygon points="942.1,378.5 916.1,381.7 939.3,423.2 965.2,420.1" fill="#0b8532" stroke="#02440e" stroke-width="1.7" stroke-linejoin="round"/>
<polygon points="717.1,296.7 692.7,309.5 718.0,331.1 742.3,318.4" fill="#0b8532" stroke="#02440e" stroke-width="1.7" stroke-linejoin="round"/>
<polygon points="617.2,296.5 593.6,312.8 619.5,323.9 643.1,307.6" fill="#0b8532" stroke="#02440e" stroke-width="1.7" stroke-linejoin="round"/>
<polygon points="667.1,293.1 643.1,307.6 668.7,324.0 692.7,309.5" fill="#0b8532" stroke="#02440e" stroke-width="1.7" stroke-linejoin="round"/>
<polygon points="892.4,344.8 866.7,350.0 890.4,386.7 916.1,381.7" fill="#0b8532" stroke="#02440e" stroke-width="1.7" stroke-linejoin="round"/>
<polygon points="1018.0,419.8 991.4,419.0 1013.8,465.2 1040.3,466.2" fill="#0b8532" stroke="#02440e" stroke-width="1.7" stroke-linejoin="round"/>
<polygon points="842.5,318.1 817.0,325.3 841.3,357.1 866.7,350.0" fill="#0b8532" stroke="#02440e" stroke-width="1.7" stroke-linejoin="round"/>
<polygon points="540.9,306.6 517.8,324.5 544.2,325.0 567.4,307.0" fill="#0b8532" stroke="#02440e" stroke-width="1.7" stroke-linejoin="round"/>
<polygon points="792.2,298.4 767.1,307.5 791.9,334.3 817.0,325.3" fill="#0b8532" stroke="#02440e" stroke-width="1.7" stroke-linejoin="round"/>
<polygon points="968.5,377.3 942.1,378.5 965.2,420.1 991.4,419.0" fill="#0b8532" stroke="#02440e" stroke-width="1.7" stroke-linejoin="round"/>
<polygon points="591.0,290.7 567.4,307.0 593.6,312.8 617.2,296.5" fill="#0b8532" stroke="#02440e" stroke-width="1.7" stroke-linejoin="round"/>
<polygon points="741.9,285.8 717.1,296.7 742.3,318.4 767.1,307.5" fill="#0b8532" stroke="#02440e" stroke-width="1.7" stroke-linejoin="round"/>
<polygon points="641.2,281.9 617.2,296.5 643.1,307.6 667.1,293.1" fill="#0b8532" stroke="#02440e" stroke-width="1.7" stroke-linejoin="round"/>
<polygon points="691.5,280.3 667.1,293.1 692.7,309.5 717.1,296.7" fill="#0b8532" stroke="#02440e" stroke-width="1.7" stroke-linejoin="round"/>
<polygon points="918.5,341.6 892.4,344.8 916.1,381.7 942.1,378.5" fill="#0b8532" stroke="#02440e" stroke-width="1.7" stroke-linejoin="round"/>
<polygon points="1044.8,422.6 1018.0,419.8 1040.3,466.2 1067.0,469.0" fill="#0b8532" stroke="#02440e" stroke-width="1.7" stroke-linejoin="round"/>
<polygon points="868.3,312.8 842.5,318.1 866.7,350.0 892.4,344.8" fill="#0b8532" stroke="#02440e" stroke-width="1.7" stroke-linejoin="round"/>
<polygon points="514.2,311.8 491.2,329.6 517.8,324.5 540.9,306.6" fill="#0b8532" stroke="#02440e" stroke-width="1.7" stroke-linejoin="round"/>
<polygon points="995.1,378.0 968.5,377.3 991.4,419.0 1018.0,419.8" fill="#0b8532" stroke="#02440e" stroke-width="1.7" stroke-linejoin="round"/>
<polygon points="817.8,291.2 792.2,298.4 817.0,325.3 842.5,318.1" fill="#0b8532" stroke="#02440e" stroke-width="1.7" stroke-linejoin="round"/>
<polygon points="564.4,290.4 540.9,306.6 567.4,307.0 591.0,290.7" fill="#0b8532" stroke="#02440e" stroke-width="1.7" stroke-linejoin="round"/>
<polygon points="767.1,276.6 741.9,285.8 767.1,307.5 792.2,298.4" fill="#0b8532" stroke="#02440e" stroke-width="1.7" stroke-linejoin="round"/>
<polygon points="614.9,276.2 591.0,290.7 617.2,296.5 641.2,281.9" fill="#0b8532" stroke="#02440e" stroke-width="1.7" stroke-linejoin="round"/>
<polygon points="716.3,269.3 691.5,280.3 717.1,296.7 741.9,285.8" fill="#0b8532" stroke="#02440e" stroke-width="1.7" stroke-linejoin="round"/>
<polygon points="665.6,269.1 641.2,281.9 667.1,293.1 691.5,280.3" fill="#0b8532" stroke="#02440e" stroke-width="1.7" stroke-linejoin="round"/>
<polygon points="1072.0,427.4 1044.8,422.6 1067.0,469.0 1094.0,473.9" fill="#0b8532" stroke="#02440e" stroke-width="1.7" stroke-linejoin="round"/>
<polygon points="945.0,340.3 918.5,341.6 942.1,378.5 968.5,377.3" fill="#0b8532" stroke="#02440e" stroke-width="1.7" stroke-linejoin="round"/>
<polygon points="487.4,322.6 464.4,340.2 491.2,329.6 514.2,311.8" fill="#0b8532" stroke="#02440e" stroke-width="1.7" stroke-linejoin="round"/>
<polygon points="894.4,309.5 868.3,312.8 892.4,344.8 918.5,341.6" fill="#0b8532" stroke="#02440e" stroke-width="1.7" stroke-linejoin="round"/>
<polygon points="1022.1,380.7 995.1,378.0 1018.0,419.8 1044.8,422.6" fill="#0b8532" stroke="#02440e" stroke-width="1.7" stroke-linejoin="round"/>
<polygon points="537.7,295.7 514.2,311.8 540.9,306.6 564.4,290.4" fill="#0b8532" stroke="#02440e" stroke-width="1.7" stroke-linejoin="round"/>
<polygon points="843.6,285.9 817.8,291.2 842.5,318.1 868.3,312.8" fill="#0b8532" stroke="#02440e" stroke-width="1.7" stroke-linejoin="round"/>
<polygon points="588.4,276.0 564.4,290.4 591.0,290.7 614.9,276.2" fill="#0b8532" stroke="#02440e" stroke-width="1.7" stroke-linejoin="round"/>
<polygon points="1099.5,434.3 1072.0,427.4 1094.0,473.9 1121.3,480.8" fill="#0b8532" stroke="#02440e" stroke-width="1.7" stroke-linejoin="round"/>
<polygon points="792.6,269.4 767.1,276.6 792.2,298.4 817.8,291.2" fill="#0b8532" stroke="#02440e" stroke-width="1.7" stroke-linejoin="round"/>
<polygon points="971.7,340.9 945.0,340.3 968.5,377.3 995.1,378.0" fill="#0b8532" stroke="#02440e" stroke-width="1.7" stroke-linejoin="round"/>
<polygon points="639.3,263.4 614.9,276.2 641.2,281.9 665.6,269.1" fill="#0b8532" stroke="#02440e" stroke-width="1.7" stroke-linejoin="round"/>
<polygon points="741.5,260.1 716.3,269.3 741.9,285.8 767.1,276.6" fill="#0b8532" stroke="#02440e" stroke-width="1.7" stroke-linejoin="round"/>
<polygon points="690.3,258.2 665.6,269.1 691.5,280.3 716.3,269.3" fill="#0b8532" stroke="#02440e" stroke-width="1.7" stroke-linejoin="round"/>
<polygon points="460.3,339.1 437.4,356.5 464.4,340.2 487.4,322.6" fill="#0b8532" stroke="#02440e" stroke-width="1.7" stroke-linejoin="round"/>
<polygon points="920.9,308.2 894.4,309.5 918.5,341.6 945.0,340.3" fill="#0b8532" stroke="#02440e" stroke-width="1.7" stroke-linejoin="round"/>
<polygon points="1049.4,385.5 1022.1,380.7 1044.8,422.6 1072.0,427.4" fill="#0b8532" stroke="#02440e" stroke-width="1.7" stroke-linejoin="round"/>
<polygon points="510.7,306.7 487.4,322.6 514.2,311.8 537.7,295.7" fill="#0b8532" stroke="#02440e" stroke-width="1.7" stroke-linejoin="round"/>
<polygon points="869.8,282.5 843.6,285.9 868.3,312.8 894.4,309.5" fill="#0b8532" stroke="#02440e" stroke-width="1.7" stroke-linejoin="round"/>
<polygon points="1127.2,443.2 1099.5,434.3 1121.3,480.8 1148.9,489.8" fill="#0b8532" stroke="#02440e" stroke-width="1.7" stroke-linejoin="round"/>
<polygon points="561.5,281.4 537.7,295.7 564.4,290.4 588.4,276.0" fill="#0b8532" stroke="#02440e" stroke-width="1.7" stroke-linejoin="round"/>
<polygon points="433.1,361.5 410.3,378.5 437.4,356.5 460.3,339.1" fill="#54ed75" stroke="#035a12" stroke-width="1.7" stroke-linejoin="round"/>
<polygon points="818.5,264.1 792.6,269.4 817.8,291.2 843.6,285.9" fill="#0b8532" stroke="#02440e" stroke-width="1.7" stroke-linejoin="round"/>
<polygon points="998.8,343.6 971.7,340.9 995.1,378.0 1022.1,380.7" fill="#0b8532" stroke="#02440e" stroke-width="1.7" stroke-linejoin="round"/>
<polygon points="612.7,263.3 588.4,276.0 614.9,276.2 639.3,263.4" fill="#0b8532" stroke="#02440e" stroke-width="1.7" stroke-linejoin="round"/>
<polygon points="767.0,252.9 741.5,260.1 767.1,276.6 792.6,269.4" fill="#0b8532" stroke="#02440e" stroke-width="1.7" stroke-linejoin="round"/>
<polygon points="664.0,252.5 639.3,263.4 665.6,269.1 690.3,258.2" fill="#0b8532" stroke="#02440e" stroke-width="1.7" stroke-linejoin="round"/>
<polygon points="715.5,249.1 690.3,258.2 716.3,269.3 741.5,260.1" fill="#0b8532" stroke="#02440e" stroke-width="1.7" stroke-linejoin="round"/>
<polygon points="483.6,323.5 460.3,339.1 487.4,322.6 510.7,306.7" fill="#0b8532" stroke="#02440e" stroke-width="1.7" stroke-linejoin="round"/>
<polygon points="1077.0,392.4 1049.4,385.5 1072.0,427.4 1099.5,434.3" fill="#0b8532" stroke="#02440e" stroke-width="1.7" stroke-linejoin="round"/>
<polygon points="947.8,308.8 920.9,308.2 945.0,340.3 971.7,340.9" fill="#0b8532" stroke="#02440e" stroke-width="1.7" stroke-linejoin="round"/>
<polygon points="405.8,389.6 383.2,406.4 410.3,378.5 433.1,361.5" fill="#59f27e" stroke="#035a12" stroke-width="1.7" stroke-linejoin="round"/>
<polygon points="1155.2,454.3 1127.2,443.2 1148.9,489.8 1176.8,500.8" fill="#0b8532" stroke="#02440e" stroke-width="1.7" stroke-linejoin="round"/>
<polygon points="534.5,292.6 510.7,306.7 537.7,295.7 561.5,281.4" fill="#0b8532" stroke="#02440e" stroke-width="1.7" stroke-linejoin="round"/>
<polygon points="896.4,281.1 869.8,282.5 894.4,309.5 920.9,308.2" fill="#0b8532" stroke="#02440e" stroke-width="1.7" stroke-linejoin="round"/>
<polygon points="1026.2,348.4 998.8,343.6 1022.1,380.7 1049.4,385.5" fill="#0b8532" stroke="#02440e" stroke-width="1.7" stroke-linejoin="round"/>
<polygon points="585.8,268.9 561.5,281.4 588.4,276.0 612.7,263.3" fill="#0b8532" stroke="#02440e" stroke-width="1.7" stroke-linejoin="round"/>
<polygon points="844.8,260.7 818.5,264.1 843.6,285.9 869.8,282.5" fill="#0b8532" stroke="#02440e" stroke-width="1.7" stroke-linejoin="round"/>
<polygon points="456.3,346.1 433.1,361.5 460.3,339.1 483.6,323.5" fill="#5aef72" stroke="#035a12" stroke-width="1.7" stroke-linejoin="round"/>
<polygon points="637.4,252.6 612.7,263.3 639.3,263.4 664.0,252.5" fill="#0b8532" stroke="#02440e" stroke-width="1.7" stroke-linejoin="round"/>
<polygon points="793.0,247.6 767.0,252.9 792.6,269.4 818.5,264.1" fill="#0b8532" stroke="#02440e" stroke-width="1.7" stroke-linejoin="round"/>
<polygon points="689.2,243.5 664.0,252.5 690.3,258.2 715.5,249.1" fill="#0b8532" stroke="#02440e" stroke-width="1.7" stroke-linejoin="round"/>
<polygon points="741.1,241.9 715.5,249.1 741.5,260.1 767.0,252.9" fill="#0b8532" stroke="#02440e" stroke-width="1.7" stroke-linejoin="round"/>
<polygon points="378.4,423.7 355.9,440.1 383.2,406.4 405.8,389.6" fill="#5cf487" stroke="#035a12" stroke-width="1.7" stroke-linejoin="round"/>
<polygon points="1104.9,401.4 1077.0,392.4 1099.5,434.3 1127.2,443.2" fill="#0b8532" stroke="#02440e" stroke-width="1.7" stroke-linejoin="round"/>
<polygon points="975.0,311.5 947.8,308.8 971.7,340.9 998.8,343.6" fill="#0b8532" stroke="#02440e" stroke-width="1.7" stroke-linejoin="round"/>
<polygon points="1183.5,467.6 1155.2,454.3 1176.8,500.8 1204.9,514.0" fill="#0b8532" stroke="#02440e" stroke-width="1.7" stroke-linejoin="round"/>
<polygon points="507.3,309.6 483.6,323.5 510.7,306.7 534.5,292.6" fill="#58eb67" stroke="#035a12" stroke-width="1.7" stroke-linejoin="round"/>
<polygon points="923.3,281.8 896.4,281.1 920.9,308.2 947.8,308.8" fill="#0b8532" stroke="#02440e" stroke-width="1.7" stroke-linejoin="round"/>
<polygon points="351.0,463.7 328.7,479.6 355.9,440.1 378.4,423.7" fill="#5ef691" stroke="#035a12" stroke-width="1.7" stroke-linejoin="round"/>
<polygon points="428.9,374.6 405.8,389.6 433.1,361.5 456.3,346.1" fill="#5ff37b" stroke="#035a12" stroke-width="1.7" stroke-linejoin="round"/>
<polygon points="558.7,280.3 534.5,292.6 561.5,281.4 585.8,268.9" fill="#0b8532" stroke="#02440e" stroke-width="1.7" stroke-linejoin="round"/>
<polygon points="1053.9,355.3 1026.2,348.4 1049.4,385.5 1077.0,392.4" fill="#0b8532" stroke="#02440e" stroke-width="1.7" stroke-linejoin="round"/>
<polygon points="871.4,259.4 844.8,260.7 869.8,282.5 896.4,281.1" fill="#0b8532" stroke="#02440e" stroke-width="1.7" stroke-linejoin="round"/>
<polygon points="610.5,258.3 585.8,268.9 612.7,263.3 637.4,252.6" fill="#0b8532" stroke="#02440e" stroke-width="1.7" stroke-linejoin="round"/>
<polygon points="1133.1,412.5 1104.9,401.4 1127.2,443.2 1155.2,454.3" fill="#0b8532" stroke="#02440e" stroke-width="1.7" stroke-linejoin="round"/>
<polygon points="819.3,244.3 793.0,247.6 818.5,264.1 844.8,260.7" fill="#0b8532" stroke="#02440e" stroke-width="1.7" stroke-linejoin="round"/>
<polygon points="662.5,243.7 637.4,252.6 664.0,252.5 689.2,243.5" fill="#0b8532" stroke="#02440e" stroke-width="1.7" stroke-linejoin="round"/>
<polygon points="479.9,332.6 456.3,346.1 483.6,323.5 507.3,309.6" fill="#60f170" stroke="#035a12" stroke-width="1.7" stroke-linejoin="round"/>
<polygon points="767.0,236.7 741.1,241.9 767.0,252.9 793.0,247.6" fill="#0b8532" stroke="#02440e" stroke-width="1.7" stroke-linejoin="round"/>
<polygon points="323.7,509.6 301.4,525.0 328.7,479.6 351.0,463.7" fill="#5ef79b" stroke="#035a12" stroke-width="1.7" stroke-linejoin="round"/>
<polygon points="714.7,236.5 689.2,243.5 715.5,249.1 741.1,241.9" fill="#0b8532" stroke="#02440e" stroke-width="1.7" stroke-linejoin="round"/>
<polygon points="1002.5,316.4 975.0,311.5 998.8,343.6 1026.2,348.4" fill="#0b8532" stroke="#02440e" stroke-width="1.7" stroke-linejoin="round"/>
<polygon points="1212.1,483.0 1183.5,467.6 1204.9,514.0 1233.3,529.3" fill="#0b8532" stroke="#02440e" stroke-width="1.7" stroke-linejoin="round"/>
<polygon points="401.4,409.1 378.4,423.7 405.8,389.6 428.9,374.6" fill="#61f584" stroke="#035a12" stroke-width="1.7" stroke-linejoin="round"/>
<polygon points="531.4,297.6 507.3,309.6 534.5,292.6 558.7,280.3" fill="#5ded65" stroke="#035a12" stroke-width="1.7" stroke-linejoin="round"/>
<polygon points="950.6,284.6 923.3,281.8 947.8,308.8 975.0,311.5" fill="#0b8532" stroke="#02440e" stroke-width="1.7" stroke-linejoin="round"/>
<polygon points="296.3,561.5 274.3,576.3 301.4,525.0 323.7,509.6" fill="#5ef9a5" stroke="#035a12" stroke-width="1.7" stroke-linejoin="round"/>
<polygon points="1082.0,364.4 1053.9,355.3 1077.0,392.4 1104.9,401.4" fill="#0b8532" stroke="#02440e" stroke-width="1.7" stroke-linejoin="round"/>
<polygon points="452.4,361.5 428.9,374.6 456.3,346.1 479.9,332.6" fill="#65f579" stroke="#035a12" stroke-width="1.7" stroke-linejoin="round"/>
<polygon points="583.3,270.0 558.7,280.3 585.8,268.9 610.5,258.3" fill="#0b8532" stroke="#02440e" stroke-width="1.7" stroke-linejoin="round"/>
<polygon points="373.8,449.6 351.0,463.7 378.4,423.7 401.4,409.1" fill="#62f78e" stroke="#035a12" stroke-width="1.7" stroke-linejoin="round"/>
<polygon points="898.4,260.1 871.4,259.4 896.4,281.1 923.3,281.8" fill="#0b8532" stroke="#02440e" stroke-width="1.7" stroke-linejoin="round"/>
<polygon points="1161.5,425.8 1133.1,412.5 1155.2,454.3 1183.5,467.6" fill="#0b8532" stroke="#02440e" stroke-width="1.7" stroke-linejoin="round"/>
<polygon points="269.1,619.2 247.2,633.4 274.3,576.3 296.3,561.5" fill="#5bfbad" stroke="#035a12" stroke-width="1.7" stroke-linejoin="round"/>
<polygon points="1240.9,500.7 1212.1,483.0 1233.3,529.3 1261.9,546.9" fill="#0b8532" stroke="#02440e" stroke-width="1.7" stroke-linejoin="round"/>
<polygon points="635.6,249.7 610.5,258.3 637.4,252.6 662.5,243.7" fill="#0b8532" stroke="#02440e" stroke-width="1.7" stroke-linejoin="round"/>
<polygon points="845.9,243.1 819.3,244.3 844.8,260.7 871.4,259.4" fill="#0b8532" stroke="#02440e" stroke-width="1.7" stroke-linejoin="round"/>
<polygon points="1030.3,323.3 1002.5,316.4 1026.2,348.4 1053.9,355.3" fill="#0b8532" stroke="#02440e" stroke-width="1.7" stroke-linejoin="round"/>
<polygon points="688.0,236.8 662.5,243.7 689.2,243.5 714.7,236.5" fill="#0b8532" stroke="#02440e" stroke-width="1.7" stroke-linejoin="round"/>
<polygon points="793.3,233.5 767.0,236.7 793.0,247.6 819.3,244.3" fill="#0b8532" stroke="#02440e" stroke-width="1.7" stroke-linejoin="round"/>
<polygon points="740.7,231.4 714.7,236.5 741.1,241.9 767.0,236.7" fill="#0b8532" stroke="#02440e" stroke-width="1.7" stroke-linejoin="round"/>
<polygon points="503.9,320.9 479.9,332.6 507.3,309.6 531.4,297.6" fill="#65f36e" stroke="#035a12" stroke-width="1.7" stroke-linejoin="round"/>
<polygon points="346.3,496.0 323.7,509.6 351.0,463.7 373.8,449.6" fill="#63f798" stroke="#035a12" stroke-width="1.7" stroke-linejoin="round"/>
<polygon points="424.8,396.4 401.4,409.1 428.9,374.6 452.4,361.5" fill="#66f781" stroke="#035a12" stroke-width="1.7" stroke-linejoin="round"/>
<polygon points="1110.3,375.6 1082.0,364.4 1104.9,401.4 1133.1,412.5" fill="#0b8532" stroke="#02440e" stroke-width="1.7" stroke-linejoin="round"/>
<polygon points="978.2,289.5 950.6,284.6 975.0,311.5 1002.5,316.4" fill="#0b8532" stroke="#02440e" stroke-width="1.7" stroke-linejoin="round"/>
<polygon points="555.9,287.5 531.4,297.6 558.7,280.3 583.3,270.0" fill="#61ef64" stroke="#035a12" stroke-width="1.7" stroke-linejoin="round"/>
<polygon points="1190.2,441.4 1161.5,425.8 1183.5,467.6 1212.1,483.0" fill="#0b8532" stroke="#02440e" stroke-width="1.7" stroke-linejoin="round"/>
<polygon points="318.8,548.5 296.3,561.5 323.7,509.6 346.3,496.0" fill="#63f8a2" stroke="#035a12" stroke-width="1.7" stroke-linejoin="round"/>
<polygon points="1270.0,520.6 1240.9,500.7 1261.9,546.9 1290.8,566.6" fill="#0b8532" stroke="#02440e" stroke-width="1.7" stroke-linejoin="round"/>
<polygon points="925.7,263.0 898.4,260.1 923.3,281.8 950.6,284.6" fill="#0b8532" stroke="#02440e" stroke-width="1.7" stroke-linejoin="round"/>
<polygon points="608.3,261.5 583.3,270.0 610.5,258.3 635.6,249.7" fill="#5ae95a" stroke="#035a12" stroke-width="1.7" stroke-linejoin="round"/>
<polygon points="476.3,350.2 452.4,361.5 479.9,332.6 503.9,320.9" fill="#69f776" stroke="#035a12" stroke-width="1.7" stroke-linejoin="round"/>
<polygon points="397.1,437.3 373.8,449.6 401.4,409.1 424.8,396.4" fill="#67f88a" stroke="#035a12" stroke-width="1.7" stroke-linejoin="round"/>
<polygon points="1058.4,332.4 1030.3,323.3 1053.9,355.3 1082.0,364.4" fill="#0b8532" stroke="#02440e" stroke-width="1.7" stroke-linejoin="round"/>
<polygon points="872.9,243.9 845.9,243.1 871.4,259.4 898.4,260.1" fill="#0b8532" stroke="#02440e" stroke-width="1.7" stroke-linejoin="round"/>
<polygon points="291.4,606.8 269.1,619.2 296.3,561.5 318.8,548.5" fill="#61faab" stroke="#035a12" stroke-width="1.7" stroke-linejoin="round"/>
<polygon points="661.1,242.9 635.6,249.7 662.5,243.7 688.0,236.8" fill="#0b8532" stroke="#02440e" stroke-width="1.7" stroke-linejoin="round"/>
<polygon points="820.0,232.3 793.3,233.5 819.3,244.3 845.9,243.1" fill="#0b8532" stroke="#02440e" stroke-width="1.7" stroke-linejoin="round"/>
<polygon points="714.0,231.9 688.0,236.8 714.7,236.5 740.7,231.4" fill="#0b8532" stroke="#02440e" stroke-width="1.7" stroke-linejoin="round"/>
<polygon points="767.0,228.3 740.7,231.4 767.0,236.7 793.3,233.5" fill="#0b8532" stroke="#02440e" stroke-width="1.7" stroke-linejoin="round"/>
<polygon points="1138.9,389.0 1110.3,375.6 1133.1,412.5 1161.5,425.8" fill="#0b8532" stroke="#02440e" stroke-width="1.7" stroke-linejoin="round"/>
<polygon points="528.4,311.1 503.9,320.9 531.4,297.6 555.9,287.5" fill="#69f56c" stroke="#035a12" stroke-width="1.7" stroke-linejoin="round"/>
<polygon points="1006.1,296.5 978.2,289.5 1002.5,316.4 1030.3,323.3" fill="#0b8532" stroke="#02440e" stroke-width="1.7" stroke-linejoin="round"/>
<polygon points="369.4,484.3 346.3,496.0 373.8,449.6 397.1,437.3" fill="#68f894" stroke="#035a12" stroke-width="1.7" stroke-linejoin="round"/>
<polygon points="1219.2,459.2 1190.2,441.4 1212.1,483.0 1240.9,500.7" fill="#0b8532" stroke="#02440e" stroke-width="1.7" stroke-linejoin="round"/>
<polygon points="448.6,385.5 424.8,396.4 452.4,361.5 476.3,350.2" fill="#6bf97e" stroke="#035a12" stroke-width="1.7" stroke-linejoin="round"/>
<polygon points="580.9,279.4 555.9,287.5 583.3,270.0 608.3,261.5" fill="#64f163" stroke="#035a12" stroke-width="1.7" stroke-linejoin="round"/>
<polygon points="953.4,267.9 925.7,263.0 950.6,284.6 978.2,289.5" fill="#0b8532" stroke="#02440e" stroke-width="1.7" stroke-linejoin="round"/>
<polygon points="1086.9,343.8 1058.4,332.4 1082.0,364.4 1110.3,375.6" fill="#0b8532" stroke="#02440e" stroke-width="1.7" stroke-linejoin="round"/>
<polygon points="341.8,537.3 318.8,548.5 346.3,496.0 369.4,484.3" fill="#69f99e" stroke="#035a12" stroke-width="1.7" stroke-linejoin="round"/>
<polygon points="633.8,255.1 608.3,261.5 635.6,249.7 661.1,242.9" fill="#5deb5a" stroke="#035a12" stroke-width="1.7" stroke-linejoin="round"/>
<polygon points="900.3,246.9 872.9,243.9 898.4,260.1 925.7,263.0" fill="#0b8532" stroke="#02440e" stroke-width="1.7" stroke-linejoin="round"/>
<polygon points="500.6,340.8 476.3,350.2 503.9,320.9 528.4,311.1" fill="#6df974" stroke="#035a12" stroke-width="1.7" stroke-linejoin="round"/>
<polygon points="420.8,426.9 397.1,437.3 424.8,396.4 448.6,385.5" fill="#6cfa87" stroke="#035a12" stroke-width="1.7" stroke-linejoin="round"/>
<polygon points="686.9,238.2 661.1,242.9 688.0,236.8 714.0,231.9" fill="#56e252" stroke="#035a12" stroke-width="1.7" stroke-linejoin="round"/>
<polygon points="1167.7,404.7 1138.9,389.0 1161.5,425.8 1190.2,441.4" fill="#0b8532" stroke="#02440e" stroke-width="1.7" stroke-linejoin="round"/>
<polygon points="847.1,233.3 820.0,232.3 845.9,243.1 872.9,243.9" fill="#0b8532" stroke="#02440e" stroke-width="1.7" stroke-linejoin="round"/>
<polygon points="740.3,229.0 714.0,231.9 740.7,231.4 767.0,228.3" fill="#0b8532" stroke="#02440e" stroke-width="1.7" stroke-linejoin="round"/>
<polygon points="314.2,596.3 291.4,606.8 318.8,548.5 341.8,537.3" fill="#67faa8" stroke="#035a12" stroke-width="1.7" stroke-linejoin="round"/>
<polygon points="793.7,227.3 767.0,228.3 793.3,233.5 820.0,232.3" fill="#0b8532" stroke="#02440e" stroke-width="1.7" stroke-linejoin="round"/>
<polygon points="1034.3,305.7 1006.1,296.5 1030.3,323.3 1058.4,332.4" fill="#0b8532" stroke="#02440e" stroke-width="1.7" stroke-linejoin="round"/>
<polygon points="1248.5,479.3 1219.2,459.2 1240.9,500.7 1270.0,520.6" fill="#0b8532" stroke="#02440e" stroke-width="1.7" stroke-linejoin="round"/>
<polygon points="553.2,303.3 528.4,311.1 555.9,287.5 580.9,279.4" fill="#6bf76b" stroke="#035a12" stroke-width="1.7" stroke-linejoin="round"/>
<polygon points="393.0,474.5 369.4,484.3 397.1,437.3 420.8,426.9" fill="#6dfa91" stroke="#035a12" stroke-width="1.7" stroke-linejoin="round"/>
<polygon points="981.4,275.1 953.4,267.9 978.2,289.5 1006.1,296.5" fill="#0b8532" stroke="#02440e" stroke-width="1.7" stroke-linejoin="round"/>
<polygon points="472.8,376.6 448.6,385.5 476.3,350.2 500.6,340.8" fill="#6efb7c" stroke="#035a12" stroke-width="1.7" stroke-linejoin="round"/>
<polygon points="1115.6,357.4 1086.9,343.8 1110.3,375.6 1138.9,389.0" fill="#0b8532" stroke="#02440e" stroke-width="1.7" stroke-linejoin="round"/>
<polygon points="606.3,273.2 580.9,279.4 608.3,261.5 633.8,255.1" fill="#66f362" stroke="#035a12" stroke-width="1.7" stroke-linejoin="round"/>
<polygon points="928.0,252.0 900.3,246.9 925.7,263.0 953.4,267.9" fill="#0b8532" stroke="#02440e" stroke-width="1.7" stroke-linejoin="round"/>
<polygon points="1196.9,422.7 1167.7,404.7 1190.2,441.4 1219.2,459.2" fill="#0b8532" stroke="#02440e" stroke-width="1.7" stroke-linejoin="round"/>
<polygon points="365.2,528.1 341.8,537.3 369.4,484.3 393.0,474.5" fill="#6efa9b" stroke="#035a12" stroke-width="1.7" stroke-linejoin="round"/>
<polygon points="659.6,250.6 633.8,255.1 661.1,242.9 686.9,238.2" fill="#60ed59" stroke="#035a12" stroke-width="1.7" stroke-linejoin="round"/>
<polygon points="874.5,236.4 847.1,233.3 872.9,243.9 900.3,246.9" fill="#0b8532" stroke="#02440e" stroke-width="1.7" stroke-linejoin="round"/>
<polygon points="525.4,333.4 500.6,340.8 528.4,311.1 553.2,303.3" fill="#6ffa72" stroke="#035a12" stroke-width="1.7" stroke-linejoin="round"/>
<polygon points="1062.9,317.2 1034.3,305.7 1058.4,332.4 1086.9,343.8" fill="#0b8532" stroke="#02440e" stroke-width="1.7" stroke-linejoin="round"/>
<polygon points="713.2,235.6 686.9,238.2 714.0,231.9 740.3,229.0" fill="#59e651" stroke="#035a12" stroke-width="1.7" stroke-linejoin="round"/>
<polygon points="444.9,418.5 420.8,426.9 448.6,385.5 472.8,376.6" fill="#70fb85" stroke="#035a12" stroke-width="1.7" stroke-linejoin="round"/>
<polygon points="820.8,228.5 793.7,227.3 820.0,232.3 847.1,233.3" fill="#0b8532" stroke="#02440e" stroke-width="1.7" stroke-linejoin="round"/>
<polygon points="767.0,228.2 740.3,229.0 767.0,228.3 793.7,227.3" fill="#0b8532" stroke="#02440e" stroke-width="1.7" stroke-linejoin="round"/>
<polygon points="337.5,587.7 314.2,596.3 341.8,537.3 365.2,528.1" fill="#6dfba5" stroke="#035a12" stroke-width="1.7" stroke-linejoin="round"/>
<polygon points="578.5,297.5 553.2,303.3 580.9,279.4 606.3,273.2" fill="#6df868" stroke="#035a12" stroke-width="1.7" stroke-linejoin="round"/>
<polygon points="1144.6,373.2 1115.6,357.4 1138.9,389.0 1167.7,404.7" fill="#0b8532" stroke="#02440e" stroke-width="1.7" stroke-linejoin="round"/>
<polygon points="1009.7,284.5 981.4,275.1 1006.1,296.5 1034.3,305.7" fill="#0b8532" stroke="#02440e" stroke-width="1.7" stroke-linejoin="round"/>
<polygon points="417.0,466.5 393.0,474.5 420.8,426.9 444.9,418.5" fill="#72fb8e" stroke="#035a12" stroke-width="1.7" stroke-linejoin="round"/>
<polygon points="1226.3,443.0 1196.9,422.7 1219.2,459.2 1248.5,479.3" fill="#0b8532" stroke="#02440e" stroke-width="1.7" stroke-linejoin="round"/>
<polygon points="497.5,369.6 472.8,376.6 500.6,340.8 525.4,333.4" fill="#71fc7a" stroke="#035a12" stroke-width="1.7" stroke-linejoin="round"/>
<polygon points="632.1,269.1 606.3,273.2 633.8,255.1 659.6,250.6" fill="#68f55f" stroke="#035a12" stroke-width="1.7" stroke-linejoin="round"/>
<polygon points="956.1,259.3 928.0,252.0 953.4,267.9 981.4,275.1" fill="#0b8532" stroke="#02440e" stroke-width="1.7" stroke-linejoin="round"/>
<polygon points="1091.7,331.0 1062.9,317.2 1086.9,343.8 1115.6,357.4" fill="#0b8532" stroke="#02440e" stroke-width="1.7" stroke-linejoin="round"/>
<polygon points="685.9,248.3 659.6,250.6 686.9,238.2 713.2,235.6" fill="#63f157" stroke="#035a12" stroke-width="1.7" stroke-linejoin="round"/>
<polygon points="902.2,241.7 874.5,236.4 900.3,246.9 928.0,252.0" fill="#0b8532" stroke="#02440e" stroke-width="1.7" stroke-linejoin="round"/>
<polygon points="389.0,520.7 365.2,528.1 393.0,474.5 417.0,466.5" fill="#73fb99" stroke="#035a12" stroke-width="1.7" stroke-linejoin="round"/>
<polygon points="739.9,235.1 713.2,235.6 740.3,229.0 767.0,228.2" fill="#5bea4f" stroke="#035a12" stroke-width="1.7" stroke-linejoin="round"/>
<polygon points="848.2,231.8 820.8,228.5 847.1,233.3 874.5,236.4" fill="#0b8532" stroke="#02440e" stroke-width="1.7" stroke-linejoin="round"/>
<polygon points="550.6,328.0 525.4,333.4 553.2,303.3 578.5,297.5" fill="#71fb70" stroke="#035a12" stroke-width="1.7" stroke-linejoin="round"/>
<polygon points="794.0,229.6 767.0,228.2 793.7,227.3 820.8,228.5" fill="#50e044" stroke="#035a12" stroke-width="1.7" stroke-linejoin="round"/>
<polygon points="469.5,412.0 444.9,418.5 472.8,376.6 497.5,369.6" fill="#73fc83" stroke="#035a12" stroke-width="1.7" stroke-linejoin="round"/>
<polygon points="1173.9,391.4 1144.6,373.2 1167.7,404.7 1196.9,422.7" fill="#0b8532" stroke="#02440e" stroke-width="1.7" stroke-linejoin="round"/>
<polygon points="1038.3,296.2 1009.7,284.5 1034.3,305.7 1062.9,317.2" fill="#0b8532" stroke="#02440e" stroke-width="1.7" stroke-linejoin="round"/>
<polygon points="361.2,581.1 337.5,587.7 365.2,528.1 389.0,520.7" fill="#72fca3" stroke="#035a12" stroke-width="1.7" stroke-linejoin="round"/>
<polygon points="604.3,293.7 578.5,297.5 606.3,273.2 632.1,269.1" fill="#6ef965" stroke="#035a12" stroke-width="1.7" stroke-linejoin="round"/>
<polygon points="984.5,268.9 956.1,259.3 981.4,275.1 1009.7,284.5" fill="#0b8532" stroke="#02440e" stroke-width="1.7" stroke-linejoin="round"/>
<polygon points="441.4,460.6 417.0,466.5 444.9,418.5 469.5,412.0" fill="#76fc8d" stroke="#035a12" stroke-width="1.7" stroke-linejoin="round"/>
<polygon points="522.6,364.6 497.5,369.6 525.4,333.4 550.6,328.0" fill="#74fc78" stroke="#035a12" stroke-width="1.7" stroke-linejoin="round"/>
<polygon points="1120.9,347.0 1091.7,331.0 1115.6,357.4 1144.6,373.2" fill="#0b8532" stroke="#02440e" stroke-width="1.7" stroke-linejoin="round"/>
<polygon points="658.2,267.1 632.1,269.1 659.6,250.6 685.9,248.3" fill="#6af85b" stroke="#035a12" stroke-width="1.7" stroke-linejoin="round"/>
<polygon points="930.4,249.2 902.2,241.7 928.0,252.0 956.1,259.3" fill="#0b8532" stroke="#02440e" stroke-width="1.7" stroke-linejoin="round"/>
<polygon points="712.5,248.0 685.9,248.3 713.2,235.6 739.9,235.1" fill="#64f553" stroke="#035a12" stroke-width="1.7" stroke-linejoin="round"/>
<polygon points="1203.5,411.9 1173.9,391.4 1196.9,422.7 1226.3,443.0" fill="#0b8532" stroke="#02440e" stroke-width="1.7" stroke-linejoin="round"/>
<polygon points="876.0,237.3 848.2,231.8 874.5,236.4 902.2,241.7" fill="#3ed432" stroke="#035a12" stroke-width="1.7" stroke-linejoin="round"/>
<polygon points="767.0,236.7 739.9,235.1 767.0,228.2 794.0,229.6" fill="#5bef4a" stroke="#035a12" stroke-width="1.7" stroke-linejoin="round"/>
<polygon points="821.5,233.1 794.0,229.6 820.8,228.5 848.2,231.8" fill="#4ee43e" stroke="#035a12" stroke-width="1.7" stroke-linejoin="round"/>
<polygon points="413.3,515.4 389.0,520.7 417.0,466.5 441.4,460.6" fill="#78fc98" stroke="#035a12" stroke-width="1.7" stroke-linejoin="round"/>
<polygon points="576.3,324.6 550.6,328.0 578.5,297.5 604.3,293.7" fill="#73fc6c" stroke="#035a12" stroke-width="1.7" stroke-linejoin="round"/>
<polygon points="1067.3,310.1 1038.3,296.2 1062.9,317.2 1091.7,331.0" fill="#0b8532" stroke="#02440e" stroke-width="1.7" stroke-linejoin="round"/>
<polygon points="494.5,407.6 469.5,412.0 497.5,369.6 522.6,364.6" fill="#77fd82" stroke="#035a12" stroke-width="1.7" stroke-linejoin="round"/>
<polygon points="385.3,576.4 361.2,581.1 389.0,520.7 413.3,515.4" fill="#77fca2" stroke="#035a12" stroke-width="1.7" stroke-linejoin="round"/>
<polygon points="630.4,292.1 604.3,293.7 632.1,269.1 658.2,267.1" fill="#6ffb60" stroke="#035a12" stroke-width="1.7" stroke-linejoin="round"/>
<polygon points="1013.2,280.7 984.5,268.9 1009.7,284.5 1038.3,296.2" fill="#0b8532" stroke="#02440e" stroke-width="1.7" stroke-linejoin="round"/>
<polygon points="1150.3,365.4 1120.9,347.0 1144.6,373.2 1173.9,391.4" fill="#0b8532" stroke="#02440e" stroke-width="1.7" stroke-linejoin="round"/>
<polygon points="466.3,456.7 441.4,460.6 469.5,412.0 494.5,407.6" fill="#7afd8c" stroke="#035a12" stroke-width="1.7" stroke-linejoin="round"/>
<polygon points="684.8,267.2 658.2,267.1 685.9,248.3 712.5,248.0" fill="#6afb57" stroke="#035a12" stroke-width="1.7" stroke-linejoin="round"/>
<polygon points="548.1,361.8 522.6,364.6 550.6,328.0 576.3,324.6" fill="#77fd75" stroke="#035a12" stroke-width="1.7" stroke-linejoin="round"/>
<polygon points="958.8,259.0 930.4,249.2 956.1,259.3 984.5,268.9" fill="#0b8532" stroke="#02440e" stroke-width="1.7" stroke-linejoin="round"/>
<polygon points="739.5,249.9 712.5,248.0 739.9,235.1 767.0,236.7" fill="#64f950" stroke="#035a12" stroke-width="1.7" stroke-linejoin="round"/>
<polygon points="904.1,245.0 876.0,237.3 902.2,241.7 930.4,249.2" fill="#38d82b" stroke="#035a12" stroke-width="1.7" stroke-linejoin="round"/>
<polygon points="1096.5,326.4 1067.3,310.1 1091.7,331.0 1120.9,347.0" fill="#0b8532" stroke="#02440e" stroke-width="1.7" stroke-linejoin="round"/>
<polygon points="794.4,240.5 767.0,236.7 794.0,229.6 821.5,233.1" fill="#59f345" stroke="#035a12" stroke-width="1.7" stroke-linejoin="round"/>
<polygon points="849.3,238.9 821.5,233.1 848.2,231.8 876.0,237.3" fill="#48e837" stroke="#035a12" stroke-width="1.7" stroke-linejoin="round"/>
<polygon points="438.0,512.2 413.3,515.4 441.4,460.6 466.3,456.7" fill="#7bfc97" stroke="#035a12" stroke-width="1.7" stroke-linejoin="round"/>
<polygon points="602.3,323.4 576.3,324.6 604.3,293.7 630.4,292.1" fill="#74fd68" stroke="#035a12" stroke-width="1.7" stroke-linejoin="round"/>
<polygon points="519.9,405.2 494.5,407.6 522.6,364.6 548.1,361.8" fill="#7afd80" stroke="#035a12" stroke-width="1.7" stroke-linejoin="round"/>
<polygon points="1180.0,386.2 1150.3,365.4 1173.9,391.4 1203.5,411.9" fill="#0b8532" stroke="#02440e" stroke-width="1.7" stroke-linejoin="round"/>
<polygon points="1042.3,294.9 1013.2,280.7 1038.3,296.2 1067.3,310.1" fill="#0b8532" stroke="#02440e" stroke-width="1.7" stroke-linejoin="round"/>
<polygon points="656.9,292.6 630.4,292.1 658.2,267.1 684.8,267.2" fill="#70fe5c" stroke="#035a12" stroke-width="1.7" stroke-linejoin="round"/>
<polygon points="409.9,573.8 385.3,576.4 413.3,515.4 438.0,512.2" fill="#7afca1" stroke="#035a12" stroke-width="1.7" stroke-linejoin="round"/>
<polygon points="987.6,271.1 958.8,259.0 984.5,268.9 1013.2,280.7" fill="#2cc425" stroke="#035a12" stroke-width="1.7" stroke-linejoin="round"/>
<polygon points="711.8,269.4 684.8,267.2 712.5,248.0 739.5,249.9" fill="#6bff54" stroke="#035a12" stroke-width="1.7" stroke-linejoin="round"/>
<polygon points="574.1,361.0 548.1,361.8 576.3,324.6 602.3,323.4" fill="#78fd72" stroke="#035a12" stroke-width="1.7" stroke-linejoin="round"/>
<polygon points="491.6,454.9 466.3,456.7 494.5,407.6 519.9,405.2" fill="#7dfd8c" stroke="#035a12" stroke-width="1.7" stroke-linejoin="round"/>
<polygon points="1126.1,345.0 1096.5,326.4 1120.9,347.0 1150.3,365.4" fill="#0b8532" stroke="#02440e" stroke-width="1.7" stroke-linejoin="round"/>
<polygon points="932.6,255.1 904.1,245.0 930.4,249.2 958.8,259.0" fill="#32db25" stroke="#035a12" stroke-width="1.7" stroke-linejoin="round"/>
<polygon points="767.0,254.1 739.5,249.9 767.0,236.7 794.4,240.5" fill="#63fc4c" stroke="#035a12" stroke-width="1.7" stroke-linejoin="round"/>
<polygon points="877.5,246.9 849.3,238.9 876.0,237.3 904.1,245.0" fill="#41eb2f" stroke="#035a12" stroke-width="1.7" stroke-linejoin="round"/>
<polygon points="822.2,246.6 794.4,240.5 821.5,233.1 849.3,238.9" fill="#54f63f" stroke="#035a12" stroke-width="1.7" stroke-linejoin="round"/>
<polygon points="628.8,324.3 602.3,323.4 630.4,292.1 656.9,292.6" fill="#75ff64" stroke="#035a12" stroke-width="1.7" stroke-linejoin="round"/>
<polygon points="1071.6,311.5 1042.3,294.9 1067.3,310.1 1096.5,326.4" fill="#0b8532" stroke="#02440e" stroke-width="1.7" stroke-linejoin="round"/>
<polygon points="463.2,511.0 438.0,512.2 466.3,456.7 491.6,454.9" fill="#7efc97" stroke="#035a12" stroke-width="1.7" stroke-linejoin="round"/>
<polygon points="545.7,405.0 519.9,405.2 548.1,361.8 574.1,361.0" fill="#7dfd7f" stroke="#035a12" stroke-width="1.7" stroke-linejoin="round"/>
<polygon points="683.8,295.3 656.9,292.6 684.8,267.2 711.8,269.4" fill="#71ff5a" stroke="#035a12" stroke-width="1.7" stroke-linejoin="round"/>
<polygon points="1016.7,285.6 987.6,271.1 1013.2,280.7 1042.3,294.9" fill="#2bc326" stroke="#035a12" stroke-width="1.7" stroke-linejoin="round"/>
<polygon points="434.9,573.3 409.9,573.8 438.0,512.2 463.2,511.0" fill="#7dfca1" stroke="#035a12" stroke-width="1.7" stroke-linejoin="round"/>
<polygon points="1155.9,366.1 1126.1,345.0 1150.3,365.4 1180.0,386.2" fill="#0b8532" stroke="#02440e" stroke-width="1.7" stroke-linejoin="round"/>
<polygon points="739.2,274.0 711.8,269.4 739.5,249.9 767.0,254.1" fill="#6bff53" stroke="#035a12" stroke-width="1.7" stroke-linejoin="round"/>
<polygon points="961.5,267.5 932.6,255.1 958.8,259.0 987.6,271.1" fill="#2edc22" stroke="#035a12" stroke-width="1.7" stroke-linejoin="round"/>
<polygon points="600.4,362.4 574.1,361.0 602.3,323.4 628.8,324.3" fill="#7afe70" stroke="#035a12" stroke-width="1.7" stroke-linejoin="round"/>
<polygon points="517.3,455.3 491.6,454.9 519.9,405.2 545.7,405.0" fill="#80fd8b" stroke="#035a12" stroke-width="1.7" stroke-linejoin="round"/>
<polygon points="794.8,260.5 767.0,254.1 794.4,240.5 822.2,246.6" fill="#60ff48" stroke="#035a12" stroke-width="1.7" stroke-linejoin="round"/>
<polygon points="906.0,257.2 877.5,246.9 904.1,245.0 932.6,255.1" fill="#3aee29" stroke="#035a12" stroke-width="1.7" stroke-linejoin="round"/>
<polygon points="850.4,254.9 822.2,246.6 849.3,238.9 877.5,246.9" fill="#4df938" stroke="#035a12" stroke-width="1.7" stroke-linejoin="round"/>
<polygon points="1101.2,330.4 1071.6,311.5 1096.5,326.4 1126.1,345.0" fill="#29aa2f" stroke="#035a12" stroke-width="1.7" stroke-linejoin="round"/>
<polygon points="655.6,327.4 628.8,324.3 656.9,292.6 683.8,295.3" fill="#76ff64" stroke="#035a12" stroke-width="1.7" stroke-linejoin="round"/>
<polygon points="488.8,511.9 463.2,511.0 491.6,454.9 517.3,455.3" fill="#81fc97" stroke="#035a12" stroke-width="1.7" stroke-linejoin="round"/>
<polygon points="1046.1,302.4 1016.7,285.6 1042.3,294.9 1071.6,311.5" fill="#2bc128" stroke="#035a12" stroke-width="1.7" stroke-linejoin="round"/>
<polygon points="572.0,406.9 545.7,405.0 574.1,361.0 600.4,362.4" fill="#7ffe7e" stroke="#035a12" stroke-width="1.7" stroke-linejoin="round"/>
<polygon points="711.2,300.2 683.8,295.3 711.8,269.4 739.2,274.0" fill="#72ff5c" stroke="#035a12" stroke-width="1.7" stroke-linejoin="round"/>
<polygon points="990.6,282.2 961.5,267.5 987.6,271.1 1016.7,285.6" fill="#2cdb22" stroke="#035a12" stroke-width="1.7" stroke-linejoin="round"/>
<polygon points="460.3,574.9 434.9,573.3 463.2,511.0 488.8,511.9" fill="#7ffda1" stroke="#035a12" stroke-width="1.7" stroke-linejoin="round"/>
<polygon points="767.0,280.7 739.2,274.0 767.0,254.1 794.8,260.5" fill="#6bff53" stroke="#035a12" stroke-width="1.7" stroke-linejoin="round"/>
<polygon points="934.9,269.9 906.0,257.2 932.6,255.1 961.5,267.5" fill="#35f025" stroke="#035a12" stroke-width="1.7" stroke-linejoin="round"/>
<polygon points="822.9,269.2 794.8,260.5 822.2,246.6 850.4,254.9" fill="#5bff45" stroke="#035a12" stroke-width="1.7" stroke-linejoin="round"/>
<polygon points="627.2,366.0 600.4,362.4 628.8,324.3 655.6,327.4" fill="#7cff70" stroke="#035a12" stroke-width="1.7" stroke-linejoin="round"/>
<polygon points="878.9,265.6 850.4,254.9 877.5,246.9 906.0,257.2" fill="#46fc32" stroke="#035a12" stroke-width="1.7" stroke-linejoin="round"/>
<polygon points="1131.2,351.7 1101.2,330.4 1126.1,345.0 1155.9,366.1" fill="#26ab30" stroke="#035a12" stroke-width="1.7" stroke-linejoin="round"/>
<polygon points="543.4,457.8 517.3,455.3 545.7,405.0 572.0,406.9" fill="#82fd8b" stroke="#035a12" stroke-width="1.7" stroke-linejoin="round"/>
<polygon points="682.9,332.8 655.6,327.4 683.8,295.3 711.2,300.2" fill="#79ff66" stroke="#035a12" stroke-width="1.7" stroke-linejoin="round"/>
<polygon points="1075.8,321.6 1046.1,302.4 1071.6,311.5 1101.2,330.4" fill="#2bbf2a" stroke="#035a12" stroke-width="1.7" stroke-linejoin="round"/>
<polygon points="514.8,515.1 488.8,511.9 517.3,455.3 543.4,457.8" fill="#83fd97" stroke="#035a12" stroke-width="1.7" stroke-linejoin="round"/>
<polygon points="598.7,411.1 572.0,406.9 600.4,362.4 627.2,366.0" fill="#80fe7e" stroke="#035a12" stroke-width="1.7" stroke-linejoin="round"/>
<polygon points="738.9,307.4 711.2,300.2 739.2,274.0 767.0,280.7" fill="#74ff5f" stroke="#035a12" stroke-width="1.7" stroke-linejoin="round"/>
<polygon points="1020.1,299.4 990.6,282.2 1016.7,285.6 1046.1,302.4" fill="#2cd924" stroke="#035a12" stroke-width="1.7" stroke-linejoin="round"/>
<polygon points="795.1,289.8 767.0,280.7 794.8,260.5 822.9,269.2" fill="#69ff53" stroke="#035a12" stroke-width="1.7" stroke-linejoin="round"/>
<polygon points="964.1,285.0 934.9,269.9 961.5,267.5 990.6,282.2" fill="#32f024" stroke="#035a12" stroke-width="1.7" stroke-linejoin="round"/>
<polygon points="486.2,578.7 460.3,574.9 488.8,511.9 514.8,515.1" fill="#80fda1" stroke="#035a12" stroke-width="1.7" stroke-linejoin="round"/>
<polygon points="851.5,280.2 822.9,269.2 850.4,254.9 878.9,265.6" fill="#56ff41" stroke="#035a12" stroke-width="1.7" stroke-linejoin="round"/>
<polygon points="907.8,278.6 878.9,265.6 906.0,257.2 934.9,269.9" fill="#41fd2e" stroke="#035a12" stroke-width="1.7" stroke-linejoin="round"/>
<polygon points="654.4,371.9 627.2,366.0 655.6,327.4 682.9,332.8" fill="#7eff73" stroke="#035a12" stroke-width="1.7" stroke-linejoin="round"/>
<polygon points="570.0,462.6 543.4,457.8 572.0,406.9 598.7,411.1" fill="#83fd8b" stroke="#035a12" stroke-width="1.7" stroke-linejoin="round"/>
<polygon points="1105.9,343.3 1075.8,321.6 1101.2,330.4 1131.2,351.7" fill="#29c02c" stroke="#035a12" stroke-width="1.7" stroke-linejoin="round"/>
<polygon points="710.5,340.5 682.9,332.8 711.2,300.2 738.9,307.4" fill="#7cff6b" stroke="#035a12" stroke-width="1.7" stroke-linejoin="round"/>
<polygon points="1049.9,319.0 1020.1,299.4 1046.1,302.4 1075.8,321.6" fill="#2cd726" stroke="#035a12" stroke-width="1.7" stroke-linejoin="round"/>
<polygon points="541.2,520.5 514.8,515.1 543.4,457.8 570.0,462.6" fill="#84fd97" stroke="#035a12" stroke-width="1.7" stroke-linejoin="round"/>
<polygon points="625.7,417.5 598.7,411.1 627.2,366.0 654.4,371.9" fill="#82fe80" stroke="#035a12" stroke-width="1.7" stroke-linejoin="round"/>
<polygon points="767.0,316.9 738.9,307.4 767.0,280.7 795.1,289.8" fill="#76ff62" stroke="#035a12" stroke-width="1.7" stroke-linejoin="round"/>
<polygon points="993.6,302.5 964.1,285.0 990.6,282.2 1020.1,299.4" fill="#31ef24" stroke="#035a12" stroke-width="1.7" stroke-linejoin="round"/>
<polygon points="823.6,301.3 795.1,289.8 822.9,269.2 851.5,280.2" fill="#68ff53" stroke="#035a12" stroke-width="1.7" stroke-linejoin="round"/>
<polygon points="937.0,294.1 907.8,278.6 934.9,269.9 964.1,285.0" fill="#3efe2d" stroke="#035a12" stroke-width="1.7" stroke-linejoin="round"/>
<polygon points="880.3,293.7 851.5,280.2 878.9,265.6 907.8,278.6" fill="#53ff3f" stroke="#035a12" stroke-width="1.7" stroke-linejoin="round"/>
<polygon points="512.5,584.8 486.2,578.7 514.8,515.1 541.2,520.5" fill="#81fda1" stroke="#035a12" stroke-width="1.7" stroke-linejoin="round"/>
<polygon points="682.0,380.1 654.4,371.9 682.9,332.8 710.5,340.5" fill="#81ff77" stroke="#035a12" stroke-width="1.7" stroke-linejoin="round"/>
<polygon points="597.0,469.6 570.0,462.6 598.7,411.1 625.7,417.5" fill="#85fe8d" stroke="#035a12" stroke-width="1.7" stroke-linejoin="round"/>
<polygon points="738.6,350.5 710.5,340.5 738.9,307.4 767.0,316.9" fill="#7fff70" stroke="#035a12" stroke-width="1.7" stroke-linejoin="round"/>
<polygon points="1080.0,341.0 1049.9,319.0 1075.8,321.6 1105.9,343.3" fill="#2bd629" stroke="#035a12" stroke-width="1.7" stroke-linejoin="round"/>
<polygon points="568.1,528.1 541.2,520.5 570.0,462.6 597.0,469.6" fill="#85fd98" stroke="#035a12" stroke-width="1.7" stroke-linejoin="round"/>
<polygon points="795.5,328.8 767.0,316.9 795.1,289.8 823.6,301.3" fill="#77ff64" stroke="#035a12" stroke-width="1.7" stroke-linejoin="round"/>
<polygon points="1023.4,322.5 993.6,302.5 1020.1,299.4 1049.9,319.0" fill="#30ed26" stroke="#035a12" stroke-width="1.7" stroke-linejoin="round"/>
<polygon points="653.2,426.3 625.7,417.5 654.4,371.9 682.0,380.1" fill="#85ff84" stroke="#035a12" stroke-width="1.7" stroke-linejoin="round"/>
<polygon points="852.5,315.2 823.6,301.3 851.5,280.2 880.3,293.7" fill="#66ff53" stroke="#035a12" stroke-width="1.7" stroke-linejoin="round"/>
<polygon points="966.6,312.0 937.0,294.1 964.1,285.0 993.6,302.5" fill="#3bfd2c" stroke="#035a12" stroke-width="1.7" stroke-linejoin="round"/>
<polygon points="909.6,309.5 880.3,293.7 907.8,278.6 937.0,294.1" fill="#50ff3d" stroke="#035a12" stroke-width="1.7" stroke-linejoin="round"/>
<polygon points="539.2,593.1 512.5,584.8 541.2,520.5 568.1,528.1" fill="#82fda2" stroke="#035a12" stroke-width="1.7" stroke-linejoin="round"/>
<polygon points="710.0,390.7 682.0,380.1 710.5,340.5 738.6,350.5" fill="#85ff7c" stroke="#035a12" stroke-width="1.7" stroke-linejoin="round"/>
<polygon points="624.3,478.9 597.0,469.6 625.7,417.5 653.2,426.3" fill="#87fe8f" stroke="#035a12" stroke-width="1.7" stroke-linejoin="round"/>
<polygon points="767.0,362.9 738.6,350.5 767.0,316.9 795.5,328.8" fill="#82ff73" stroke="#035a12" stroke-width="1.7" stroke-linejoin="round"/>
<polygon points="1053.6,344.9 1023.4,322.5 1049.9,319.0 1080.0,341.0" fill="#2feb29" stroke="#035a12" stroke-width="1.7" stroke-linejoin="round"/>
<polygon points="824.3,343.2 795.5,328.8 823.6,301.3 852.5,315.2" fill="#77ff66" stroke="#035a12" stroke-width="1.7" stroke-linejoin="round"/>
<polygon points="595.4,538.1 568.1,528.1 597.0,469.6 624.3,478.9" fill="#87fd9a" stroke="#035a12" stroke-width="1.7" stroke-linejoin="round"/>
<polygon points="681.1,437.4 653.2,426.3 682.0,380.1 710.0,390.7" fill="#88fe87" stroke="#035a12" stroke-width="1.7" stroke-linejoin="round"/>
<polygon points="996.5,332.3 966.6,312.0 993.6,302.5 1023.4,322.5" fill="#3afb2d" stroke="#035a12" stroke-width="1.7" stroke-linejoin="round"/>
<polygon points="881.7,331.5 852.5,315.2 880.3,293.7 909.6,309.5" fill="#64ff51" stroke="#035a12" stroke-width="1.7" stroke-linejoin="round"/>
<polygon points="939.1,327.8 909.6,309.5 937.0,294.1 966.6,312.0" fill="#4dff3c" stroke="#035a12" stroke-width="1.7" stroke-linejoin="round"/>
<polygon points="566.3,603.8 539.2,593.1 568.1,528.1 595.4,538.1" fill="#83fda3" stroke="#035a12" stroke-width="1.7" stroke-linejoin="round"/>
<polygon points="738.3,403.6 710.0,390.7 738.6,350.5 767.0,362.9" fill="#88fe80" stroke="#035a12" stroke-width="1.7" stroke-linejoin="round"/>
<polygon points="652.1,490.7 624.3,478.9 653.2,426.3 681.1,437.4" fill="#8afe92" stroke="#035a12" stroke-width="1.7" stroke-linejoin="round"/>
<polygon points="795.8,377.8 767.0,362.9 795.5,328.8 824.3,343.2" fill="#83ff75" stroke="#035a12" stroke-width="1.7" stroke-linejoin="round"/>
<polygon points="853.5,359.9 824.3,343.2 852.5,315.2 881.7,331.5" fill="#76ff65" stroke="#035a12" stroke-width="1.7" stroke-linejoin="round"/>
<polygon points="1026.7,355.2 996.5,332.3 1023.4,322.5 1053.6,344.9" fill="#38fa2f" stroke="#035a12" stroke-width="1.7" stroke-linejoin="round"/>
<polygon points="623.0,550.5 595.4,538.1 624.3,478.9 652.1,490.7" fill="#89fd9b" stroke="#035a12" stroke-width="1.7" stroke-linejoin="round"/>
<polygon points="911.3,350.2 881.7,331.5 909.6,309.5 939.1,327.8" fill="#61ff50" stroke="#035a12" stroke-width="1.7" stroke-linejoin="round"/>
<polygon points="969.1,348.6 939.1,327.8 966.6,312.0 996.5,332.3" fill="#49ff3b" stroke="#035a12" stroke-width="1.7" stroke-linejoin="round"/>
<polygon points="709.4,450.9 681.1,437.4 710.0,390.7 738.3,403.6" fill="#8cfe8a" stroke="#035a12" stroke-width="1.7" stroke-linejoin="round"/>
<polygon points="593.9,616.9 566.3,603.8 595.4,538.1 623.0,550.5" fill="#85fda4" stroke="#035a12" stroke-width="1.7" stroke-linejoin="round"/>
<polygon points="767.0,419.0 738.3,403.6 767.0,362.9 795.8,377.8" fill="#8bfe82" stroke="#035a12" stroke-width="1.7" stroke-linejoin="round"/>
<polygon points="680.3,504.8 652.1,490.7 681.1,437.4 709.4,450.9" fill="#8dfd94" stroke="#035a12" stroke-width="1.7" stroke-linejoin="round"/>
<polygon points="825.0,395.0 795.8,377.8 824.3,343.2 853.5,359.9" fill="#83fe76" stroke="#035a12" stroke-width="1.7" stroke-linejoin="round"/>
<polygon points="883.1,379.2 853.5,359.9 881.7,331.5 911.3,350.2" fill="#73ff63" stroke="#035a12" stroke-width="1.7" stroke-linejoin="round"/>
<polygon points="999.3,372.0 969.1,348.6 996.5,332.3 1026.7,355.2" fill="#47ff3c" stroke="#035a12" stroke-width="1.7" stroke-linejoin="round"/>
<polygon points="941.2,371.5 911.3,350.2 939.1,327.8 969.1,348.6" fill="#5cff4e" stroke="#035a12" stroke-width="1.7" stroke-linejoin="round"/>
<polygon points="738.1,466.8 709.4,450.9 738.3,403.6 767.0,419.0" fill="#8efe8d" stroke="#035a12" stroke-width="1.7" stroke-linejoin="round"/>
<polygon points="651.1,565.3 623.0,550.5 652.1,490.7 680.3,504.8" fill="#8bfd9e" stroke="#035a12" stroke-width="1.7" stroke-linejoin="round"/>
<polygon points="796.2,436.8 767.0,419.0 795.8,377.8 825.0,395.0" fill="#8bfe83" stroke="#035a12" stroke-width="1.7" stroke-linejoin="round"/>
<polygon points="621.8,632.3 593.9,616.9 623.0,550.5 651.1,565.3" fill="#86fda6" stroke="#035a12" stroke-width="1.7" stroke-linejoin="round"/>
<polygon points="708.9,521.3 680.3,504.8 709.4,450.9 738.1,466.8" fill="#8ffd97" stroke="#035a12" stroke-width="1.7" stroke-linejoin="round"/>
<polygon points="854.5,414.8 825.0,395.0 853.5,359.9 883.1,379.2" fill="#81ff74" stroke="#035a12" stroke-width="1.7" stroke-linejoin="round"/>
<polygon points="913.0,401.0 883.1,379.2 911.3,350.2 941.2,371.5" fill="#6eff61" stroke="#035a12" stroke-width="1.7" stroke-linejoin="round"/>
<polygon points="971.4,395.3 941.2,371.5 969.1,348.6 999.3,372.0" fill="#58ff4d" stroke="#035a12" stroke-width="1.7" stroke-linejoin="round"/>
<polygon points="767.1,485.3 738.1,466.8 767.0,419.0 796.2,436.8" fill="#90fe8e" stroke="#035a12" stroke-width="1.7" stroke-linejoin="round"/>
<polygon points="679.6,582.5 651.1,565.3 680.3,504.8 708.9,521.3" fill="#8efda0" stroke="#035a12" stroke-width="1.7" stroke-linejoin="round"/>
<polygon points="825.6,457.2 796.2,436.8 825.0,395.0 854.5,414.8" fill="#89fe82" stroke="#035a12" stroke-width="1.7" stroke-linejoin="round"/>
<polygon points="650.2,650.2 621.8,632.3 651.1,565.3 679.6,582.5" fill="#89fda8" stroke="#035a12" stroke-width="1.7" stroke-linejoin="round"/>
<polygon points="737.8,540.4 708.9,521.3 738.1,466.8 767.1,485.3" fill="#91fd98" stroke="#035a12" stroke-width="1.7" stroke-linejoin="round"/>
<polygon points="884.4,437.2 854.5,414.8 883.1,379.2 913.0,401.0" fill="#7cff72" stroke="#035a12" stroke-width="1.7" stroke-linejoin="round"/>
<polygon points="943.2,425.3 913.0,401.0 941.2,371.5 971.4,395.3" fill="#69ff5f" stroke="#035a12" stroke-width="1.7" stroke-linejoin="round"/>
<polygon points="796.5,506.2 767.1,485.3 796.2,436.8 825.6,457.2" fill="#8ffe8e" stroke="#035a12" stroke-width="1.7" stroke-linejoin="round"/>
<polygon points="708.4,602.2 679.6,582.5 708.9,521.3 737.8,540.4" fill="#90fda2" stroke="#035a12" stroke-width="1.7" stroke-linejoin="round"/>
<polygon points="855.4,480.1 825.6,457.2 854.5,414.8 884.4,437.2" fill="#86fe81" stroke="#035a12" stroke-width="1.7" stroke-linejoin="round"/>
<polygon points="678.9,670.6 650.2,650.2 679.6,582.5 708.4,602.2" fill="#8bfdaa" stroke="#035a12" stroke-width="1.7" stroke-linejoin="round"/>
<polygon points="914.6,462.0 884.4,437.2 913.0,401.0 943.2,425.3" fill="#77ff70" stroke="#035a12" stroke-width="1.7" stroke-linejoin="round"/>
<polygon points="767.1,562.0 737.8,540.4 767.1,485.3 796.5,506.2" fill="#91fd99" stroke="#035a12" stroke-width="1.7" stroke-linejoin="round"/>
<polygon points="826.2,529.7 796.5,506.2 825.6,457.2 855.4,480.1" fill="#8cfe8e" stroke="#035a12" stroke-width="1.7" stroke-linejoin="round"/>
<polygon points="737.6,624.4 708.4,602.2 737.8,540.4 767.1,562.0" fill="#90fda3" stroke="#035a12" stroke-width="1.7" stroke-linejoin="round"/>
<polygon points="885.6,505.5 855.4,480.1 884.4,437.2 914.6,462.0" fill="#80ff7f" stroke="#035a12" stroke-width="1.7" stroke-linejoin="round"/>
<polygon points="708.0,693.5 678.9,670.6 708.4,602.2 737.6,624.4" fill="#8bfeab" stroke="#035a12" stroke-width="1.7" stroke-linejoin="round"/>
<polygon points="796.8,586.1 767.1,562.0 796.5,506.2 826.2,529.7" fill="#8ffe99" stroke="#035a12" stroke-width="1.7" stroke-linejoin="round"/>
<polygon points="856.3,555.8 826.2,529.7 855.4,480.1 885.6,505.5" fill="#87fe8c" stroke="#035a12" stroke-width="1.7" stroke-linejoin="round"/>
<polygon points="767.2,649.2 737.6,624.4 767.1,562.0 796.8,586.1" fill="#8efea3" stroke="#035a12" stroke-width="1.7" stroke-linejoin="round"/>
<polygon points="737.5,719.0 708.0,693.5 737.6,624.4 767.2,649.2" fill="#89feac" stroke="#035a12" stroke-width="1.7" stroke-linejoin="round"/>
<polygon points="826.9,612.8 796.8,586.1 826.2,529.7 856.3,555.8" fill="#8afe98" stroke="#035a12" stroke-width="1.7" stroke-linejoin="round"/>
<polygon points="797.1,676.6 767.2,649.2 796.8,586.1 826.9,612.8" fill="#89fea2" stroke="#035a12" stroke-width="1.7" stroke-linejoin="round"/>
<polygon points="767.3,747.1 737.5,719.0 767.2,649.2 797.1,676.6" fill="#84ffaa" stroke="#035a12" stroke-width="1.7" stroke-linejoin="round"/>
<circle cx="228.2" cy="200.6" r="5" fill="#000"/>
<circle cx="231.9" cy="283.0" r="5" fill="#000"/>
<circle cx="235.6" cy="365.4" r="5" fill="#000"/>
<circle cx="239.3" cy="447.8" r="5" fill="#000"/>
<circle cx="242.9" cy="530.1" r="5" fill="#000"/>
<circle cx="246.6" cy="612.5" r="5" fill="#000"/>
<circle cx="250.3" cy="694.9" r="5" fill="#000"/>
<circle cx="254.0" cy="777.3" r="5" fill="#000"/>
<circle cx="261.5" cy="959.4" r="5" fill="#000"/>
<circle cx="767.7" cy="1224.0" r="5" fill="#000"/>
<circle cx="388.1" cy="1025.5" r="5" fill="#000"/>
<circle cx="894.4" cy="1157.8" r="5" fill="#000"/>
<circle cx="514.6" cy="1091.7" r="5" fill="#000"/>
<circle cx="1021.0" cy="1091.7" r="5" fill="#000"/>
<circle cx="641.2" cy="1157.8" r="5" fill="#000"/>
<circle cx="1147.7" cy="1025.5" r="5" fill="#000"/>
<circle cx="767.7" cy="1224.0" r="5" fill="#000"/>
<circle cx="1274.3" cy="959.4" r="5" fill="#000"/>
<g font-family="Liberation Serif, serif" fill="#111"><text x="212.2" y="188.4" font-size="34.5" text-anchor="end" letter-spacing="-1.4">8.2</text>
<text x="215.9" y="270.8" font-size="34.5" text-anchor="end" letter-spacing="-1.4">8</text>
<text x="219.6" y="353.2" font-size="34.5" text-anchor="end" letter-spacing="-1.4">7.8</text>
<text x="223.3" y="435.6" font-size="34.5" text-anchor="end" letter-spacing="-1.4">7.6</text>
<text x="226.9" y="517.9" font-size="34.5" text-anchor="end" letter-spacing="-1.4">7.4</text>
<text x="230.6" y="600.3" font-size="34.5" text-anchor="end" letter-spacing="-1.4">7.2</text>
<text x="234.3" y="682.7" font-size="34.5" text-anchor="end" letter-spacing="-1.4">7</text>
<text x="238.0" y="765.1" font-size="34.5" text-anchor="end" letter-spacing="-1.4">6.8</text>
<text x="245.5" y="991.6" font-size="34.5" text-anchor="end" letter-spacing="-1.4">30.00</text>
<text x="372.1" y="1057.8" font-size="34.5" text-anchor="end" letter-spacing="-1.4">25.00</text>
<text x="498.6" y="1123.9" font-size="34.5" text-anchor="end" letter-spacing="-1.4">20.00</text>
<text x="625.2" y="1190.0" font-size="34.5" text-anchor="end" letter-spacing="-1.4">15.00</text>
<text x="751.7" y="1256.2" font-size="34.5" text-anchor="end" letter-spacing="-1.4">10.00</text>
<text x="781.2" y="1256.7" font-size="34.5" text-anchor="start" letter-spacing="-1.4">0.25</text>
<text x="907.9" y="1190.5" font-size="34.5" text-anchor="start" letter-spacing="-1.4">0.28</text>
<text x="1034.5" y="1124.4" font-size="34.5" text-anchor="start" letter-spacing="-1.4">0.30</text>
<text x="1161.2" y="1058.2" font-size="34.5" text-anchor="start" letter-spacing="-1.4">0.32</text>
<text x="1287.8" y="992.1" font-size="34.5" text-anchor="start" letter-spacing="-1.4">0.35</text>
<text x="219.0" y="1213.3" font-size="46" text-anchor="start" letter-spacing="-1.4">Fly ash (%)</text>
<text x="1048.0" y="1213.1" font-size="46" text-anchor="start" >Water-binder ratio</text>
<text x="0.0" y="0.0" font-size="44" text-anchor="start" letter-spacing="2.2" transform="translate(83 872) rotate(-90)">Compressive strength (MPa)</text></g></svg></body></html>
